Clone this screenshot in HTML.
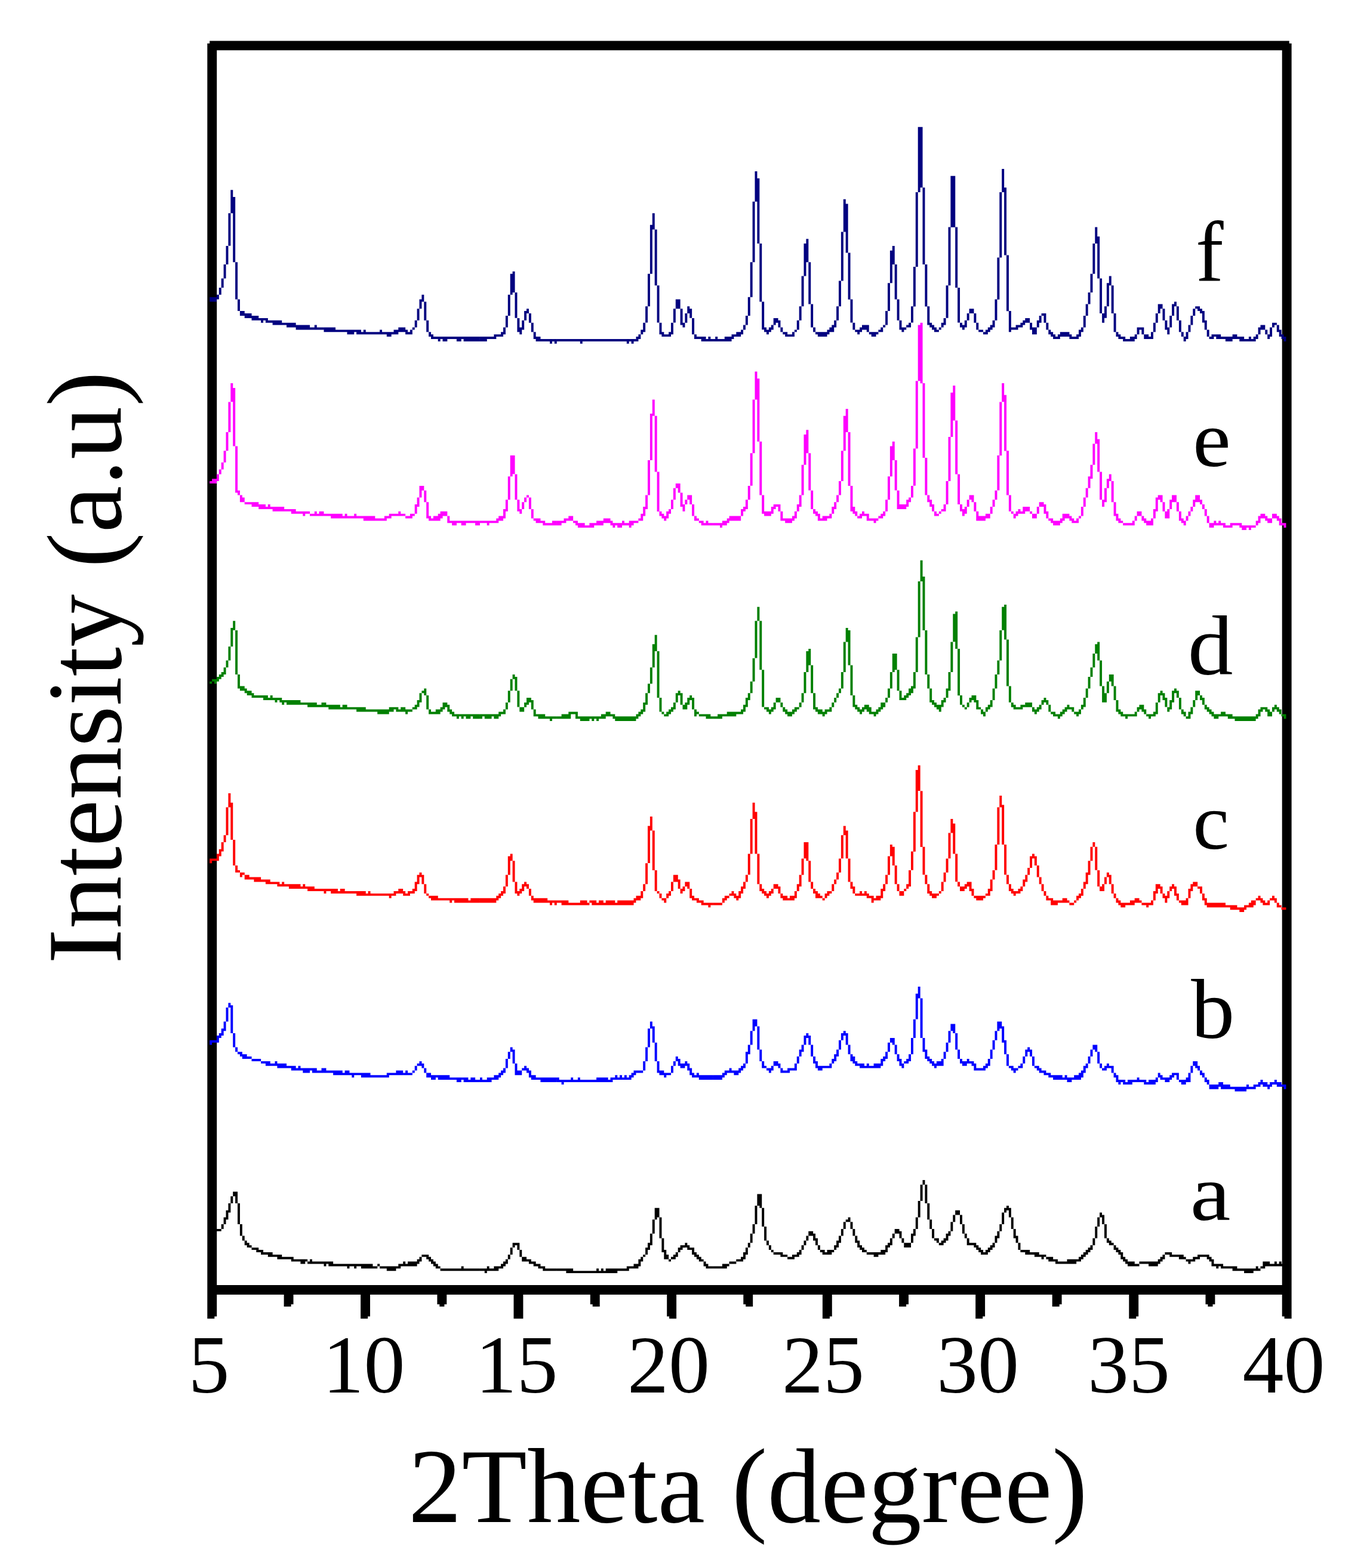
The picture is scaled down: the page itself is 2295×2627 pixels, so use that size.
<!DOCTYPE html>
<html lang="en"><head><meta charset="utf-8"><title>XRD patterns</title>
<style>html,body{margin:0;padding:0;background:#fff;overflow:hidden}svg{display:block}</style></head><body>
<svg width="2295" height="2627" viewBox="0 0 2295 2627">
<rect width="2295" height="2627" fill="#fff"/>
<path fill="#000" d="M351.2 68.4H2159.7V72.7H2163.6V84.3H347.3V72.7H351.2zM347.3 2153.1H2163.6V2169H347.3zM347.3 84H363.2V2153.5H347.3zM2147.7 84H2163.6V2153.5H2147.7zM347.3 2168.5H363.2V2205.4H359.3V2209.3H347.3zM475.6 2168.5H491.5V2185.2H487.6V2189.1H475.6zM604.1 2168.5H620.0V2205.4H616.1V2209.3H604.1zM732.4 2168.5H748.3V2185.2H744.4V2189.1H736.3V2185.2H732.4zM860.5 2168.5H876.4V2209.3H860.5zM988.8 2168.5H1004.7V2189.1H992.7V2185.2H988.8zM1117.2 2168.5H1133.1V2209.3H1121.1V2205.4H1117.2zM1245.3 2168.5H1261.2V2189.1H1249.2V2185.2H1245.3zM1377.9 2168.5H1393.8V2205.4H1389.9V2209.3H1377.9zM1506.1 2168.5H1522.0V2185.2H1518.1V2189.1H1506.1zM1634.2 2168.5H1650.1V2205.4H1646.2V2209.3H1634.2zM1762.7 2168.5H1778.6V2185.2H1774.7V2189.1H1762.7zM1891.3 2168.5H1907.2V2205.4H1903.3V2209.3H1891.3zM2019.5 2168.5H2035.4V2185.2H2031.5V2189.1H2023.4V2185.2H2019.5zM2147.7 2168.5H2163.6V2209.3H2151.6V2205.4H2147.7z"/>
<path fill="#000080" d="M351.2 497.7v7.8h3.95v-7.8zM355.1 497.7v7.8h3.95v-7.8zM359.0 497.7v7.8h3.95v-7.8zM362.9 493.8v7.8h3.95v-7.8zM366.8 482.1v11.7h3.95v-11.7zM370.7 466.5v15.6h3.95v-15.6zM374.6 443.1v23.4h3.95v-23.4zM378.5 411.9v31.2h3.95v-31.2zM382.4 357.2v54.6h3.95v-54.6zM386.3 318.2v39.0h3.95v-39.0zM390.2 329.9v109.3h3.95v-109.3zM394.1 439.2v62.4h3.95v-62.4zM398.0 501.6v19.5h3.95v-19.5zM401.9 521.1v7.8h3.95v-7.8zM405.8 521.1v7.8h3.95v-7.8zM409.7 525.1v7.8h3.95v-7.8zM413.7 525.1v7.8h3.95v-7.8zM417.6 525.1v7.8h3.95v-7.8zM421.5 529.0v7.8h3.95v-7.8zM425.4 529.0v7.8h3.95v-7.8zM429.3 529.0v7.8h3.95v-7.8zM433.2 532.9v3.9h3.95v-3.9zM437.1 532.9v7.8h3.95v-7.8zM441.0 532.9v3.9h3.95v-3.9zM444.9 532.9v7.8h3.95v-7.8zM448.8 536.8v3.9h3.95v-3.9zM452.7 536.8v3.9h3.95v-3.9zM456.6 536.8v7.8h3.95v-7.8zM460.5 536.8v7.8h3.95v-7.8zM464.4 536.8v7.8h3.95v-7.8zM468.3 536.8v7.8h3.95v-7.8zM472.2 540.7v3.9h3.95v-3.9zM476.1 540.7v3.9h3.95v-3.9zM480.0 540.7v7.8h3.95v-7.8zM483.9 540.7v7.8h3.95v-7.8zM487.8 540.7v7.8h3.95v-7.8zM491.7 540.7v7.8h3.95v-7.8zM495.6 544.6v7.8h3.95v-7.8zM499.5 544.6v7.8h3.95v-7.8zM503.4 544.6v7.8h3.95v-7.8zM507.3 544.6v7.8h3.95v-7.8zM511.2 544.6v7.8h3.95v-7.8zM515.1 544.6v7.8h3.95v-7.8zM519.0 548.5v3.9h3.95v-3.9zM522.9 548.5v3.9h3.95v-3.9zM526.8 544.6v7.8h3.95v-7.8zM530.7 548.5v3.9h3.95v-3.9zM534.6 548.5v3.9h3.95v-3.9zM538.5 548.5v3.9h3.95v-3.9zM542.5 548.5v7.8h3.95v-7.8zM546.4 548.5v7.8h3.95v-7.8zM550.3 548.5v7.8h3.95v-7.8zM554.2 548.5v7.8h3.95v-7.8zM558.1 548.5v7.8h3.95v-7.8zM562.0 552.4v3.9h3.95v-3.9zM565.9 552.4v3.9h3.95v-3.9zM569.8 552.4v3.9h3.95v-3.9zM573.7 552.4v3.9h3.95v-3.9zM577.6 552.4v3.9h3.95v-3.9zM581.5 552.4v7.8h3.95v-7.8zM585.4 552.4v7.8h3.95v-7.8zM589.3 552.4v7.8h3.95v-7.8zM593.2 552.4v3.9h3.95v-3.9zM597.1 552.4v7.8h3.95v-7.8zM601.0 552.4v7.8h3.95v-7.8zM604.9 556.3v3.9h3.95v-3.9zM608.8 552.4v7.8h3.95v-7.8zM612.7 556.3v3.9h3.95v-3.9zM616.6 556.3v3.9h3.95v-3.9zM620.5 556.3v3.9h3.95v-3.9zM624.4 556.3v3.9h3.95v-3.9zM628.3 556.3v3.9h3.95v-3.9zM632.2 556.3v3.9h3.95v-3.9zM636.1 552.4v7.8h3.95v-7.8zM640.0 556.3v3.9h3.95v-3.9zM643.9 556.3v3.9h3.95v-3.9zM647.8 556.3v7.8h3.95v-7.8zM651.7 556.3v7.8h3.95v-7.8zM655.6 556.3v3.9h3.95v-3.9zM659.5 552.4v7.8h3.95v-7.8zM663.4 552.4v7.8h3.95v-7.8zM667.3 548.5v7.8h3.95v-7.8zM671.2 548.5v7.8h3.95v-7.8zM675.2 548.5v7.8h3.95v-7.8zM679.1 552.4v7.8h3.95v-7.8zM683.0 556.3v3.9h3.95v-3.9zM686.9 552.4v7.8h3.95v-7.8zM690.8 548.5v3.9h3.95v-3.9zM694.7 536.8v11.7h3.95v-11.7zM698.6 517.2v19.5h3.95v-19.5zM702.5 501.6v15.6h3.95v-15.6zM706.4 493.8v11.7h3.95v-11.7zM710.3 505.5v31.2h3.95v-31.2zM714.2 536.8v19.5h3.95v-19.5zM718.1 556.3v7.8h3.95v-7.8zM722.0 560.2v7.8h3.95v-7.8zM725.9 564.1v3.9h3.95v-3.9zM729.8 564.1v3.9h3.95v-3.9zM733.7 564.1v7.8h3.95v-7.8zM737.6 564.1v3.9h3.95v-3.9zM741.5 564.1v7.8h3.95v-7.8zM745.4 564.1v7.8h3.95v-7.8zM749.3 564.1v3.9h3.95v-3.9zM753.2 564.1v3.9h3.95v-3.9zM757.1 564.1v3.9h3.95v-3.9zM761.0 564.1v3.9h3.95v-3.9zM764.9 564.1v7.8h3.95v-7.8zM768.8 564.1v7.8h3.95v-7.8zM772.7 564.1v3.9h3.95v-3.9zM776.6 564.1v7.8h3.95v-7.8zM780.5 564.1v7.8h3.95v-7.8zM784.4 564.1v7.8h3.95v-7.8zM788.3 564.1v7.8h3.95v-7.8zM792.2 564.1v7.8h3.95v-7.8zM796.1 564.1v7.8h3.95v-7.8zM800.0 564.1v7.8h3.95v-7.8zM804.0 564.1v7.8h3.95v-7.8zM807.9 564.1v7.8h3.95v-7.8zM811.8 564.1v7.8h3.95v-7.8zM815.7 564.1v3.9h3.95v-3.9zM819.6 564.1v3.9h3.95v-3.9zM823.5 564.1v3.9h3.95v-3.9zM827.4 560.2v7.8h3.95v-7.8zM831.3 560.2v3.9h3.95v-3.9zM835.2 560.2v3.9h3.95v-3.9zM839.1 556.3v7.8h3.95v-7.8zM843.0 548.5v11.7h3.95v-11.7zM846.9 529.0v19.5h3.95v-19.5zM850.8 493.8v35.1h3.95v-35.1zM854.7 458.7v35.1h3.95v-35.1zM858.6 454.8v35.1h3.95v-35.1zM862.5 489.9v42.9h3.95v-42.9zM866.4 532.9v23.4h3.95v-23.4zM870.3 548.5v11.7h3.95v-11.7zM874.2 536.8v15.6h3.95v-15.6zM878.1 521.1v15.6h3.95v-15.6zM882.0 517.2v7.8h3.95v-7.8zM885.9 525.1v15.6h3.95v-15.6zM889.8 540.7v15.6h3.95v-15.6zM893.7 556.3v11.7h3.95v-11.7zM897.6 564.1v7.8h3.95v-7.8zM901.5 564.1v7.8h3.95v-7.8zM905.4 568.0v3.9h3.95v-3.9zM909.3 568.0v3.9h3.95v-3.9zM913.2 568.0v3.9h3.95v-3.9zM917.1 568.0v3.9h3.95v-3.9zM921.0 568.0v7.8h3.95v-7.8zM924.9 568.0v3.9h3.95v-3.9zM928.8 568.0v7.8h3.95v-7.8zM932.8 568.0v3.9h3.95v-3.9zM936.7 568.0v3.9h3.95v-3.9zM940.6 568.0v3.9h3.95v-3.9zM944.5 568.0v3.9h3.95v-3.9zM948.4 568.0v3.9h3.95v-3.9zM952.3 568.0v3.9h3.95v-3.9zM956.2 568.0v3.9h3.95v-3.9zM960.1 568.0v3.9h3.95v-3.9zM964.0 568.0v3.9h3.95v-3.9zM967.9 568.0v3.9h3.95v-3.9zM971.8 568.0v7.8h3.95v-7.8zM975.7 568.0v3.9h3.95v-3.9zM979.6 568.0v3.9h3.95v-3.9zM983.5 568.0v3.9h3.95v-3.9zM987.4 568.0v3.9h3.95v-3.9zM991.3 568.0v3.9h3.95v-3.9zM995.2 568.0v3.9h3.95v-3.9zM999.1 568.0v3.9h3.95v-3.9zM1003.0 568.0v3.9h3.95v-3.9zM1006.9 568.0v3.9h3.95v-3.9zM1010.8 568.0v3.9h3.95v-3.9zM1014.7 568.0v3.9h3.95v-3.9zM1018.6 568.0v3.9h3.95v-3.9zM1022.5 568.0v3.9h3.95v-3.9zM1026.4 568.0v3.9h3.95v-3.9zM1030.3 568.0v3.9h3.95v-3.9zM1034.2 568.0v3.9h3.95v-3.9zM1038.1 568.0v3.9h3.95v-3.9zM1042.0 568.0v3.9h3.95v-3.9zM1045.9 568.0v3.9h3.95v-3.9zM1049.8 568.0v7.8h3.95v-7.8zM1053.7 568.0v3.9h3.95v-3.9zM1057.6 568.0v7.8h3.95v-7.8zM1061.5 568.0v3.9h3.95v-3.9zM1065.5 564.1v7.8h3.95v-7.8zM1069.4 560.2v7.8h3.95v-7.8zM1073.3 552.4v7.8h3.95v-7.8zM1077.2 540.7v15.6h3.95v-15.6zM1081.1 513.3v27.3h3.95v-27.3zM1085.0 458.7v54.6h3.95v-54.6zM1088.9 376.7v82.0h3.95v-82.0zM1092.8 357.2v27.3h3.95v-27.3zM1096.7 384.5v93.7h3.95v-93.7zM1100.6 478.2v62.4h3.95v-62.4zM1104.5 540.7v19.5h3.95v-19.5zM1108.4 556.3v7.8h3.95v-7.8zM1112.3 560.2v3.9h3.95v-3.9zM1116.2 560.2v3.9h3.95v-3.9zM1120.1 556.3v7.8h3.95v-7.8zM1124.0 540.7v19.5h3.95v-19.5zM1127.9 517.2v23.4h3.95v-23.4zM1131.8 501.6v15.6h3.95v-15.6zM1135.7 501.6v15.6h3.95v-15.6zM1139.6 517.2v27.3h3.95v-27.3zM1143.5 540.7v7.8h3.95v-7.8zM1147.4 525.1v15.6h3.95v-15.6zM1151.3 513.3v11.7h3.95v-11.7zM1155.2 517.2v15.6h3.95v-15.6zM1159.1 532.9v27.3h3.95v-27.3zM1163.0 560.2v7.8h3.95v-7.8zM1166.9 564.1v3.9h3.95v-3.9zM1170.8 564.1v3.9h3.95v-3.9zM1174.7 564.1v7.8h3.95v-7.8zM1178.6 564.1v7.8h3.95v-7.8zM1182.5 568.0v3.9h3.95v-3.9zM1186.4 564.1v7.8h3.95v-7.8zM1190.3 568.0v3.9h3.95v-3.9zM1194.3 568.0v3.9h3.95v-3.9zM1198.2 564.1v7.8h3.95v-7.8zM1202.1 568.0v3.9h3.95v-3.9zM1206.0 568.0v3.9h3.95v-3.9zM1209.9 568.0v3.9h3.95v-3.9zM1213.8 564.1v7.8h3.95v-7.8zM1217.7 564.1v7.8h3.95v-7.8zM1221.6 564.1v7.8h3.95v-7.8zM1225.5 560.2v7.8h3.95v-7.8zM1229.4 560.2v3.9h3.95v-3.9zM1233.3 556.3v7.8h3.95v-7.8zM1237.2 556.3v7.8h3.95v-7.8zM1241.1 552.4v7.8h3.95v-7.8zM1245.0 544.6v7.8h3.95v-7.8zM1248.9 529.0v15.6h3.95v-15.6zM1252.8 497.7v31.2h3.95v-31.2zM1256.7 439.2v58.5h3.95v-58.5zM1260.6 337.7v101.5h3.95v-101.5zM1264.5 287.0v50.7h3.95v-50.7zM1268.4 298.7v109.3h3.95v-109.3zM1272.3 408.0v97.6h3.95v-97.6zM1276.2 505.5v46.8h3.95v-46.8zM1280.1 548.5v7.8h3.95v-7.8zM1284.0 552.4v7.8h3.95v-7.8zM1287.9 548.5v7.8h3.95v-7.8zM1291.8 544.6v7.8h3.95v-7.8zM1295.7 532.9v11.7h3.95v-11.7zM1299.6 532.9v7.8h3.95v-7.8zM1303.5 536.8v11.7h3.95v-11.7zM1307.4 548.5v7.8h3.95v-7.8zM1311.3 556.3v3.9h3.95v-3.9zM1315.2 556.3v7.8h3.95v-7.8zM1319.1 560.2v3.9h3.95v-3.9zM1323.0 560.2v3.9h3.95v-3.9zM1327.0 556.3v7.8h3.95v-7.8zM1330.9 552.4v3.9h3.95v-3.9zM1334.8 536.8v15.6h3.95v-15.6zM1338.7 513.3v23.4h3.95v-23.4zM1342.6 462.6v50.7h3.95v-50.7zM1346.5 408.0v54.6h3.95v-54.6zM1350.4 400.2v39.0h3.95v-39.0zM1354.3 439.2v70.3h3.95v-70.3zM1358.2 509.4v39.0h3.95v-39.0zM1362.1 548.5v7.8h3.95v-7.8zM1366.0 556.3v3.9h3.95v-3.9zM1369.9 556.3v7.8h3.95v-7.8zM1373.8 556.3v7.8h3.95v-7.8zM1377.7 556.3v7.8h3.95v-7.8zM1381.6 556.3v7.8h3.95v-7.8zM1385.5 552.4v7.8h3.95v-7.8zM1389.4 548.5v7.8h3.95v-7.8zM1393.3 544.6v11.7h3.95v-11.7zM1397.2 536.8v11.7h3.95v-11.7zM1401.1 513.3v23.4h3.95v-23.4zM1405.0 470.4v42.9h3.95v-42.9zM1408.9 388.4v82.0h3.95v-82.0zM1412.8 333.8v54.6h3.95v-54.6zM1416.7 341.6v82.0h3.95v-82.0zM1420.6 423.6v78.1h3.95v-78.1zM1424.5 501.6v39.0h3.95v-39.0zM1428.4 540.7v11.7h3.95v-11.7zM1432.3 552.4v3.9h3.95v-3.9zM1436.2 552.4v7.8h3.95v-7.8zM1440.1 548.5v7.8h3.95v-7.8zM1444.0 544.6v7.8h3.95v-7.8zM1447.9 544.6v7.8h3.95v-7.8zM1451.8 544.6v11.7h3.95v-11.7zM1455.8 556.3v3.9h3.95v-3.9zM1459.7 556.3v7.8h3.95v-7.8zM1463.6 556.3v7.8h3.95v-7.8zM1467.5 556.3v3.9h3.95v-3.9zM1471.4 552.4v3.9h3.95v-3.9zM1475.3 548.5v7.8h3.95v-7.8zM1479.2 544.6v3.9h3.95v-3.9zM1483.1 521.1v23.4h3.95v-23.4zM1487.0 474.3v46.8h3.95v-46.8zM1490.9 419.7v54.6h3.95v-54.6zM1494.8 411.9v31.2h3.95v-31.2zM1498.7 443.1v58.5h3.95v-58.5zM1502.6 501.6v35.1h3.95v-35.1zM1506.5 536.8v15.6h3.95v-15.6zM1510.4 548.5v7.8h3.95v-7.8zM1514.3 548.5v3.9h3.95v-3.9zM1518.2 544.6v3.9h3.95v-3.9zM1522.1 540.7v7.8h3.95v-7.8zM1526.0 513.3v27.3h3.95v-27.3zM1529.9 447.0v66.4h3.95v-66.4zM1533.8 322.1v124.9h3.95v-124.9zM1537.7 212.8v109.3h3.95v-109.3zM1541.6 212.8v101.5h3.95v-101.5zM1545.5 314.3v128.8h3.95v-128.8zM1549.4 443.1v70.3h3.95v-70.3zM1553.3 513.3v31.2h3.95v-31.2zM1557.2 540.7v7.8h3.95v-7.8zM1561.1 544.6v7.8h3.95v-7.8zM1565.0 548.5v7.8h3.95v-7.8zM1568.9 552.4v3.9h3.95v-3.9zM1572.8 548.5v3.9h3.95v-3.9zM1576.7 540.7v7.8h3.95v-7.8zM1580.6 532.9v11.7h3.95v-11.7zM1584.6 478.2v54.6h3.95v-54.6zM1588.5 380.6v97.6h3.95v-97.6zM1592.4 294.8v85.9h3.95v-85.9zM1596.3 294.8v85.9h3.95v-85.9zM1600.2 380.6v101.5h3.95v-101.5zM1604.1 482.1v58.5h3.95v-58.5zM1608.0 540.7v7.8h3.95v-7.8zM1611.9 544.6v7.8h3.95v-7.8zM1615.8 536.8v11.7h3.95v-11.7zM1619.7 525.1v11.7h3.95v-11.7zM1623.6 517.2v7.8h3.95v-7.8zM1627.5 517.2v7.8h3.95v-7.8zM1631.4 525.1v15.6h3.95v-15.6zM1635.3 540.7v11.7h3.95v-11.7zM1639.2 552.4v3.9h3.95v-3.9zM1643.1 552.4v3.9h3.95v-3.9zM1647.0 556.3v3.9h3.95v-3.9zM1650.9 552.4v7.8h3.95v-7.8zM1654.8 548.5v7.8h3.95v-7.8zM1658.7 544.6v7.8h3.95v-7.8zM1662.6 536.8v11.7h3.95v-11.7zM1666.5 501.6v35.1h3.95v-35.1zM1670.4 431.4v70.3h3.95v-70.3zM1674.3 322.1v109.3h3.95v-109.3zM1678.2 283.1v39.0h3.95v-39.0zM1682.1 314.3v113.2h3.95v-113.2zM1686.0 427.5v93.7h3.95v-93.7zM1689.9 521.1v35.1h3.95v-35.1zM1693.8 548.5v3.9h3.95v-3.9zM1697.7 548.5v3.9h3.95v-3.9zM1701.6 544.6v7.8h3.95v-7.8zM1705.5 544.6v3.9h3.95v-3.9zM1709.4 540.7v7.8h3.95v-7.8zM1713.3 536.8v7.8h3.95v-7.8zM1717.3 532.9v7.8h3.95v-7.8zM1721.2 532.9v7.8h3.95v-7.8zM1725.1 540.7v11.7h3.95v-11.7zM1729.0 548.5v11.7h3.95v-11.7zM1732.9 548.5v11.7h3.95v-11.7zM1736.8 536.8v11.7h3.95v-11.7zM1740.7 529.0v11.7h3.95v-11.7zM1744.6 525.1v3.9h3.95v-3.9zM1748.5 525.1v15.6h3.95v-15.6zM1752.4 540.7v11.7h3.95v-11.7zM1756.3 552.4v7.8h3.95v-7.8zM1760.2 556.3v7.8h3.95v-7.8zM1764.1 560.2v7.8h3.95v-7.8zM1768.0 564.1v3.9h3.95v-3.9zM1771.9 560.2v7.8h3.95v-7.8zM1775.8 556.3v7.8h3.95v-7.8zM1779.7 556.3v7.8h3.95v-7.8zM1783.6 556.3v7.8h3.95v-7.8zM1787.5 556.3v7.8h3.95v-7.8zM1791.4 560.2v7.8h3.95v-7.8zM1795.3 564.1v3.9h3.95v-3.9zM1799.2 564.1v3.9h3.95v-3.9zM1803.1 560.2v7.8h3.95v-7.8zM1807.0 552.4v11.7h3.95v-11.7zM1810.9 548.5v7.8h3.95v-7.8zM1814.8 529.0v19.5h3.95v-19.5zM1818.7 509.4v19.5h3.95v-19.5zM1822.6 489.9v19.5h3.95v-19.5zM1826.5 458.7v31.2h3.95v-31.2zM1830.4 408.0v50.7h3.95v-50.7zM1834.3 380.6v27.3h3.95v-27.3zM1838.2 396.3v70.3h3.95v-70.3zM1842.1 466.5v58.5h3.95v-58.5zM1846.1 525.1v15.6h3.95v-15.6zM1850.0 513.3v19.5h3.95v-19.5zM1853.9 474.3v39.0h3.95v-39.0zM1857.8 462.6v15.6h3.95v-15.6zM1861.7 478.2v46.8h3.95v-46.8zM1865.6 525.1v31.2h3.95v-31.2zM1869.5 556.3v7.8h3.95v-7.8zM1873.4 560.2v7.8h3.95v-7.8zM1877.3 564.1v3.9h3.95v-3.9zM1881.2 564.1v7.8h3.95v-7.8zM1885.1 568.0v3.9h3.95v-3.9zM1889.0 568.0v3.9h3.95v-3.9zM1892.9 564.1v7.8h3.95v-7.8zM1896.8 564.1v7.8h3.95v-7.8zM1900.7 560.2v7.8h3.95v-7.8zM1904.6 548.5v11.7h3.95v-11.7zM1908.5 548.5v3.9h3.95v-3.9zM1912.4 548.5v11.7h3.95v-11.7zM1916.3 560.2v7.8h3.95v-7.8zM1920.2 560.2v7.8h3.95v-7.8zM1924.1 564.1v3.9h3.95v-3.9zM1928.0 556.3v11.7h3.95v-11.7zM1931.9 540.7v15.6h3.95v-15.6zM1935.8 525.1v15.6h3.95v-15.6zM1939.7 509.4v15.6h3.95v-15.6zM1943.6 509.4v7.8h3.95v-7.8zM1947.5 517.2v19.5h3.95v-19.5zM1951.4 536.8v15.6h3.95v-15.6zM1955.3 548.5v11.7h3.95v-11.7zM1959.2 529.0v19.5h3.95v-19.5zM1963.1 509.4v19.5h3.95v-19.5zM1967.0 505.5v7.8h3.95v-7.8zM1970.9 513.3v23.4h3.95v-23.4zM1974.9 536.8v19.5h3.95v-19.5zM1978.8 556.3v7.8h3.95v-7.8zM1982.7 564.1v7.8h3.95v-7.8zM1986.6 556.3v11.7h3.95v-11.7zM1990.5 544.6v11.7h3.95v-11.7zM1994.4 529.0v15.6h3.95v-15.6zM1998.3 517.2v11.7h3.95v-11.7zM2002.2 513.3v3.9h3.95v-3.9zM2006.1 513.3v7.8h3.95v-7.8zM2010.0 517.2v7.8h3.95v-7.8zM2013.9 521.1v19.5h3.95v-19.5zM2017.8 536.8v15.6h3.95v-15.6zM2021.7 552.4v11.7h3.95v-11.7zM2025.6 564.1v3.9h3.95v-3.9zM2029.5 560.2v7.8h3.95v-7.8zM2033.4 560.2v3.9h3.95v-3.9zM2037.3 560.2v7.8h3.95v-7.8zM2041.2 560.2v7.8h3.95v-7.8zM2045.1 564.1v3.9h3.95v-3.9zM2049.0 564.1v3.9h3.95v-3.9zM2052.9 564.1v7.8h3.95v-7.8zM2056.8 564.1v7.8h3.95v-7.8zM2060.7 564.1v7.8h3.95v-7.8zM2064.6 560.2v7.8h3.95v-7.8zM2068.5 560.2v7.8h3.95v-7.8zM2072.4 564.1v3.9h3.95v-3.9zM2076.3 564.1v7.8h3.95v-7.8zM2080.2 564.1v7.8h3.95v-7.8zM2084.1 568.0v3.9h3.95v-3.9zM2088.0 568.0v3.9h3.95v-3.9zM2091.9 564.1v7.8h3.95v-7.8zM2095.8 568.0v3.9h3.95v-3.9zM2099.7 564.1v7.8h3.95v-7.8zM2103.7 560.2v7.8h3.95v-7.8zM2107.6 548.5v11.7h3.95v-11.7zM2111.5 544.6v7.8h3.95v-7.8zM2115.4 544.6v7.8h3.95v-7.8zM2119.3 552.4v7.8h3.95v-7.8zM2123.2 560.2v7.8h3.95v-7.8zM2127.1 548.5v15.6h3.95v-15.6zM2131.0 540.7v7.8h3.95v-7.8zM2134.9 540.7v3.9h3.95v-3.9zM2138.8 544.6v11.7h3.95v-11.7zM2142.7 552.4v11.7h3.95v-11.7zM2146.6 560.2v7.8h3.95v-7.8zM2150.5 564.1v7.8h3.95v-7.8z"/>
<path fill="#ff00ff" d="M351.2 806.1v3.9h3.95v-3.9zM355.1 802.2v7.8h3.95v-7.8zM359.0 802.2v7.8h3.95v-7.8zM362.9 794.4v11.7h3.95v-11.7zM366.8 786.6v7.8h3.95v-7.8zM370.7 774.8v11.7h3.95v-11.7zM374.6 755.3v19.5h3.95v-19.5zM378.5 724.1v31.2h3.95v-31.2zM382.4 673.4v50.7h3.95v-50.7zM386.3 642.1v31.2h3.95v-31.2zM390.2 649.9v97.6h3.95v-97.6zM394.1 747.5v78.1h3.95v-78.1zM398.0 821.7v7.8h3.95v-7.8zM401.9 829.5v11.7h3.95v-11.7zM405.8 833.4v7.8h3.95v-7.8zM409.7 841.2v3.9h3.95v-3.9zM413.7 841.2v3.9h3.95v-3.9zM417.6 841.2v3.9h3.95v-3.9zM421.5 841.2v7.8h3.95v-7.8zM425.4 841.2v7.8h3.95v-7.8zM429.3 841.2v7.8h3.95v-7.8zM433.2 845.1v7.8h3.95v-7.8zM437.1 845.1v7.8h3.95v-7.8zM441.0 845.1v7.8h3.95v-7.8zM444.9 849.0v3.9h3.95v-3.9zM448.8 845.1v7.8h3.95v-7.8zM452.7 849.0v3.9h3.95v-3.9zM456.6 849.0v7.8h3.95v-7.8zM460.5 849.0v7.8h3.95v-7.8zM464.4 849.0v7.8h3.95v-7.8zM468.3 849.0v7.8h3.95v-7.8zM472.2 849.0v7.8h3.95v-7.8zM476.1 852.9v3.9h3.95v-3.9zM480.0 852.9v3.9h3.95v-3.9zM483.9 852.9v3.9h3.95v-3.9zM487.8 852.9v7.8h3.95v-7.8zM491.7 852.9v7.8h3.95v-7.8zM495.6 856.8v3.9h3.95v-3.9zM499.5 856.8v3.9h3.95v-3.9zM503.4 856.8v3.9h3.95v-3.9zM507.3 856.8v7.8h3.95v-7.8zM511.2 856.8v3.9h3.95v-3.9zM515.1 856.8v3.9h3.95v-3.9zM519.0 860.7v3.9h3.95v-3.9zM522.9 860.7v3.9h3.95v-3.9zM526.8 856.8v7.8h3.95v-7.8zM530.7 860.7v3.9h3.95v-3.9zM534.6 856.8v7.8h3.95v-7.8zM538.5 856.8v7.8h3.95v-7.8zM542.5 860.7v3.9h3.95v-3.9zM546.4 860.7v3.9h3.95v-3.9zM550.3 860.7v3.9h3.95v-3.9zM554.2 860.7v7.8h3.95v-7.8zM558.1 860.7v7.8h3.95v-7.8zM562.0 860.7v7.8h3.95v-7.8zM565.9 860.7v7.8h3.95v-7.8zM569.8 860.7v7.8h3.95v-7.8zM573.7 864.6v3.9h3.95v-3.9zM577.6 860.7v7.8h3.95v-7.8zM581.5 864.6v3.9h3.95v-3.9zM585.4 864.6v3.9h3.95v-3.9zM589.3 864.6v3.9h3.95v-3.9zM593.2 860.7v7.8h3.95v-7.8zM597.1 864.6v3.9h3.95v-3.9zM601.0 864.6v3.9h3.95v-3.9zM604.9 864.6v3.9h3.95v-3.9zM608.8 864.6v7.8h3.95v-7.8zM612.7 864.6v7.8h3.95v-7.8zM616.6 864.6v7.8h3.95v-7.8zM620.5 864.6v7.8h3.95v-7.8zM624.4 864.6v7.8h3.95v-7.8zM628.3 868.5v3.9h3.95v-3.9zM632.2 868.5v3.9h3.95v-3.9zM636.1 868.5v3.9h3.95v-3.9zM640.0 868.5v3.9h3.95v-3.9zM643.9 864.6v7.8h3.95v-7.8zM647.8 864.6v3.9h3.95v-3.9zM651.7 860.7v7.8h3.95v-7.8zM655.6 860.7v3.9h3.95v-3.9zM659.5 860.7v3.9h3.95v-3.9zM663.4 860.7v3.9h3.95v-3.9zM667.3 856.8v7.8h3.95v-7.8zM671.2 860.7v3.9h3.95v-3.9zM675.2 860.7v3.9h3.95v-3.9zM679.1 864.6v3.9h3.95v-3.9zM683.0 864.6v3.9h3.95v-3.9zM686.9 860.7v7.8h3.95v-7.8zM690.8 860.7v3.9h3.95v-3.9zM694.7 845.1v15.6h3.95v-15.6zM698.6 833.4v15.6h3.95v-15.6zM702.5 813.9v19.5h3.95v-19.5zM706.4 813.9v7.8h3.95v-7.8zM710.3 821.7v19.5h3.95v-19.5zM714.2 841.2v27.3h3.95v-27.3zM718.1 864.6v7.8h3.95v-7.8zM722.0 868.5v3.9h3.95v-3.9zM725.9 864.6v7.8h3.95v-7.8zM729.8 864.6v7.8h3.95v-7.8zM733.7 860.7v11.7h3.95v-11.7zM737.6 856.8v11.7h3.95v-11.7zM741.5 856.8v7.8h3.95v-7.8zM745.4 856.8v7.8h3.95v-7.8zM749.3 864.6v11.7h3.95v-11.7zM753.2 872.4v3.9h3.95v-3.9zM757.1 872.4v7.8h3.95v-7.8zM761.0 872.4v7.8h3.95v-7.8zM764.9 872.4v3.9h3.95v-3.9zM768.8 872.4v3.9h3.95v-3.9zM772.7 872.4v7.8h3.95v-7.8zM776.6 872.4v7.8h3.95v-7.8zM780.5 872.4v3.9h3.95v-3.9zM784.4 872.4v3.9h3.95v-3.9zM788.3 872.4v3.9h3.95v-3.9zM792.2 872.4v3.9h3.95v-3.9zM796.1 872.4v7.8h3.95v-7.8zM800.0 872.4v7.8h3.95v-7.8zM804.0 872.4v3.9h3.95v-3.9zM807.9 872.4v3.9h3.95v-3.9zM811.8 872.4v3.9h3.95v-3.9zM815.7 872.4v7.8h3.95v-7.8zM819.6 872.4v3.9h3.95v-3.9zM823.5 872.4v3.9h3.95v-3.9zM827.4 872.4v3.9h3.95v-3.9zM831.3 868.5v7.8h3.95v-7.8zM835.2 864.6v7.8h3.95v-7.8zM839.1 864.6v7.8h3.95v-7.8zM843.0 852.9v15.6h3.95v-15.6zM846.9 837.3v19.5h3.95v-19.5zM850.8 798.3v39.0h3.95v-39.0zM854.7 763.1v35.1h3.95v-35.1zM858.6 763.1v31.2h3.95v-31.2zM862.5 794.4v42.9h3.95v-42.9zM866.4 837.3v19.5h3.95v-19.5zM870.3 852.9v7.8h3.95v-7.8zM874.2 841.2v11.7h3.95v-11.7zM878.1 833.4v7.8h3.95v-7.8zM882.0 829.5v3.9h3.95v-3.9zM885.9 833.4v19.5h3.95v-19.5zM889.8 852.9v15.6h3.95v-15.6zM893.7 868.5v3.9h3.95v-3.9zM897.6 868.5v7.8h3.95v-7.8zM901.5 868.5v7.8h3.95v-7.8zM905.4 872.4v3.9h3.95v-3.9zM909.3 872.4v7.8h3.95v-7.8zM913.2 876.3v3.9h3.95v-3.9zM917.1 876.3v3.9h3.95v-3.9zM921.0 876.3v3.9h3.95v-3.9zM924.9 872.4v7.8h3.95v-7.8zM928.8 872.4v7.8h3.95v-7.8zM932.8 872.4v7.8h3.95v-7.8zM936.7 872.4v7.8h3.95v-7.8zM940.6 872.4v3.9h3.95v-3.9zM944.5 868.5v7.8h3.95v-7.8zM948.4 868.5v3.9h3.95v-3.9zM952.3 864.6v7.8h3.95v-7.8zM956.2 864.6v7.8h3.95v-7.8zM960.1 872.4v3.9h3.95v-3.9zM964.0 872.4v7.8h3.95v-7.8zM967.9 876.3v7.8h3.95v-7.8zM971.8 876.3v7.8h3.95v-7.8zM975.7 876.3v7.8h3.95v-7.8zM979.6 880.2v3.9h3.95v-3.9zM983.5 880.2v3.9h3.95v-3.9zM987.4 876.3v7.8h3.95v-7.8zM991.3 876.3v7.8h3.95v-7.8zM995.2 876.3v3.9h3.95v-3.9zM999.1 872.4v7.8h3.95v-7.8zM1003.0 872.4v7.8h3.95v-7.8zM1006.9 872.4v7.8h3.95v-7.8zM1010.8 868.5v7.8h3.95v-7.8zM1014.7 868.5v7.8h3.95v-7.8zM1018.6 868.5v7.8h3.95v-7.8zM1022.5 872.4v7.8h3.95v-7.8zM1026.4 876.3v7.8h3.95v-7.8zM1030.3 876.3v3.9h3.95v-3.9zM1034.2 876.3v7.8h3.95v-7.8zM1038.1 876.3v7.8h3.95v-7.8zM1042.0 872.4v7.8h3.95v-7.8zM1045.9 876.3v3.9h3.95v-3.9zM1049.8 876.3v3.9h3.95v-3.9zM1053.7 872.4v11.7h3.95v-11.7zM1057.6 872.4v7.8h3.95v-7.8zM1061.5 872.4v3.9h3.95v-3.9zM1065.5 872.4v3.9h3.95v-3.9zM1069.4 868.5v3.9h3.95v-3.9zM1073.3 860.7v11.7h3.95v-11.7zM1077.2 849.0v15.6h3.95v-15.6zM1081.1 829.5v23.4h3.95v-23.4zM1085.0 770.9v58.5h3.95v-58.5zM1088.9 692.9v78.1h3.95v-78.1zM1092.8 669.5v27.3h3.95v-27.3zM1096.7 696.8v93.7h3.95v-93.7zM1100.6 790.5v66.4h3.95v-66.4zM1104.5 856.8v7.8h3.95v-7.8zM1108.4 860.7v7.8h3.95v-7.8zM1112.3 864.6v7.8h3.95v-7.8zM1116.2 856.8v11.7h3.95v-11.7zM1120.1 852.9v7.8h3.95v-7.8zM1124.0 837.3v15.6h3.95v-15.6zM1127.9 817.8v19.5h3.95v-19.5zM1131.8 810.0v7.8h3.95v-7.8zM1135.7 810.0v15.6h3.95v-15.6zM1139.6 825.6v23.4h3.95v-23.4zM1143.5 845.1v11.7h3.95v-11.7zM1147.4 837.3v7.8h3.95v-7.8zM1151.3 829.5v7.8h3.95v-7.8zM1155.2 829.5v15.6h3.95v-15.6zM1159.1 845.1v19.5h3.95v-19.5zM1163.0 864.6v7.8h3.95v-7.8zM1166.9 868.5v3.9h3.95v-3.9zM1170.8 872.4v3.9h3.95v-3.9zM1174.7 872.4v7.8h3.95v-7.8zM1178.6 876.3v3.9h3.95v-3.9zM1182.5 872.4v7.8h3.95v-7.8zM1186.4 876.3v3.9h3.95v-3.9zM1190.3 876.3v3.9h3.95v-3.9zM1194.3 876.3v3.9h3.95v-3.9zM1198.2 876.3v3.9h3.95v-3.9zM1202.1 876.3v3.9h3.95v-3.9zM1206.0 876.3v7.8h3.95v-7.8zM1209.9 872.4v7.8h3.95v-7.8zM1213.8 872.4v7.8h3.95v-7.8zM1217.7 868.5v7.8h3.95v-7.8zM1221.6 864.6v7.8h3.95v-7.8zM1225.5 864.6v7.8h3.95v-7.8zM1229.4 864.6v7.8h3.95v-7.8zM1233.3 864.6v7.8h3.95v-7.8zM1237.2 864.6v7.8h3.95v-7.8zM1241.1 852.9v11.7h3.95v-11.7zM1245.0 849.0v7.8h3.95v-7.8zM1248.9 837.3v15.6h3.95v-15.6zM1252.8 813.9v23.4h3.95v-23.4zM1256.7 759.2v54.6h3.95v-54.6zM1260.6 669.5v89.8h3.95v-89.8zM1264.5 622.6v46.8h3.95v-46.8zM1268.4 634.3v105.4h3.95v-105.4zM1272.3 739.7v89.8h3.95v-89.8zM1276.2 829.5v31.2h3.95v-31.2zM1280.1 856.8v7.8h3.95v-7.8zM1284.0 856.8v7.8h3.95v-7.8zM1287.9 856.8v7.8h3.95v-7.8zM1291.8 849.0v11.7h3.95v-11.7zM1295.7 845.1v7.8h3.95v-7.8zM1299.6 845.1v3.9h3.95v-3.9zM1303.5 845.1v11.7h3.95v-11.7zM1307.4 856.8v15.6h3.95v-15.6zM1311.3 868.5v3.9h3.95v-3.9zM1315.2 868.5v7.8h3.95v-7.8zM1319.1 868.5v7.8h3.95v-7.8zM1323.0 868.5v7.8h3.95v-7.8zM1327.0 864.6v7.8h3.95v-7.8zM1330.9 856.8v11.7h3.95v-11.7zM1334.8 845.1v11.7h3.95v-11.7zM1338.7 829.5v19.5h3.95v-19.5zM1342.6 778.7v50.7h3.95v-50.7zM1346.5 728.0v50.7h3.95v-50.7zM1350.4 720.2v39.0h3.95v-39.0zM1354.3 759.2v62.4h3.95v-62.4zM1358.2 821.7v31.2h3.95v-31.2zM1362.1 852.9v7.8h3.95v-7.8zM1366.0 856.8v7.8h3.95v-7.8zM1369.9 860.7v11.7h3.95v-11.7zM1373.8 868.5v3.9h3.95v-3.9zM1377.7 864.6v7.8h3.95v-7.8zM1381.6 864.6v7.8h3.95v-7.8zM1385.5 864.6v3.9h3.95v-3.9zM1389.4 860.7v7.8h3.95v-7.8zM1393.3 849.0v11.7h3.95v-11.7zM1397.2 841.2v11.7h3.95v-11.7zM1401.1 829.5v11.7h3.95v-11.7zM1405.0 806.1v23.4h3.95v-23.4zM1408.9 755.3v50.7h3.95v-50.7zM1412.8 696.8v58.5h3.95v-58.5zM1416.7 685.1v39.0h3.95v-39.0zM1420.6 724.1v89.8h3.95v-89.8zM1424.5 813.9v42.9h3.95v-42.9zM1428.4 849.0v11.7h3.95v-11.7zM1432.3 856.8v7.8h3.95v-7.8zM1436.2 864.6v3.9h3.95v-3.9zM1440.1 860.7v7.8h3.95v-7.8zM1444.0 856.8v7.8h3.95v-7.8zM1447.9 860.7v3.9h3.95v-3.9zM1451.8 860.7v11.7h3.95v-11.7zM1455.8 868.5v3.9h3.95v-3.9zM1459.7 868.5v3.9h3.95v-3.9zM1463.6 868.5v7.8h3.95v-7.8zM1467.5 868.5v3.9h3.95v-3.9zM1471.4 864.6v3.9h3.95v-3.9zM1475.3 860.7v7.8h3.95v-7.8zM1479.2 856.8v7.8h3.95v-7.8zM1483.1 837.3v19.5h3.95v-19.5zM1487.0 798.3v39.0h3.95v-39.0zM1490.9 747.5v50.7h3.95v-50.7zM1494.8 739.7v31.2h3.95v-31.2zM1498.7 770.9v50.7h3.95v-50.7zM1502.6 821.7v31.2h3.95v-31.2zM1506.5 845.1v7.8h3.95v-7.8zM1510.4 845.1v7.8h3.95v-7.8zM1514.3 845.1v7.8h3.95v-7.8zM1518.2 837.3v11.7h3.95v-11.7zM1522.1 833.4v7.8h3.95v-7.8zM1526.0 813.9v19.5h3.95v-19.5zM1529.9 751.4v62.4h3.95v-62.4zM1533.8 638.2v113.2h3.95v-113.2zM1537.7 544.6v93.7h3.95v-93.7zM1541.6 540.7v101.5h3.95v-101.5zM1545.5 642.1v124.9h3.95v-124.9zM1549.4 767.0v62.4h3.95v-62.4zM1553.3 829.5v11.7h3.95v-11.7zM1557.2 837.3v11.7h3.95v-11.7zM1561.1 845.1v11.7h3.95v-11.7zM1565.0 856.8v7.8h3.95v-7.8zM1568.9 860.7v3.9h3.95v-3.9zM1572.8 856.8v3.9h3.95v-3.9zM1576.7 852.9v3.9h3.95v-3.9zM1580.6 845.1v11.7h3.95v-11.7zM1584.6 806.1v39.0h3.95v-39.0zM1588.5 731.9v74.2h3.95v-74.2zM1592.4 657.8v74.2h3.95v-74.2zM1596.3 646.0v58.5h3.95v-58.5zM1600.2 704.6v89.8h3.95v-89.8zM1604.1 794.4v50.7h3.95v-50.7zM1608.0 845.1v11.7h3.95v-11.7zM1611.9 852.9v11.7h3.95v-11.7zM1615.8 849.0v11.7h3.95v-11.7zM1619.7 837.3v11.7h3.95v-11.7zM1623.6 829.5v7.8h3.95v-7.8zM1627.5 829.5v11.7h3.95v-11.7zM1631.4 841.2v15.6h3.95v-15.6zM1635.3 856.8v15.6h3.95v-15.6zM1639.2 864.6v7.8h3.95v-7.8zM1643.1 864.6v7.8h3.95v-7.8zM1647.0 864.6v7.8h3.95v-7.8zM1650.9 860.7v7.8h3.95v-7.8zM1654.8 860.7v7.8h3.95v-7.8zM1658.7 849.0v11.7h3.95v-11.7zM1662.6 837.3v11.7h3.95v-11.7zM1666.5 821.7v15.6h3.95v-15.6zM1670.4 763.1v58.5h3.95v-58.5zM1674.3 673.4v89.8h3.95v-89.8zM1678.2 642.1v31.2h3.95v-31.2zM1682.1 661.7v93.7h3.95v-93.7zM1686.0 755.3v74.2h3.95v-74.2zM1689.9 829.5v27.3h3.95v-27.3zM1693.8 856.8v3.9h3.95v-3.9zM1697.7 860.7v7.8h3.95v-7.8zM1701.6 856.8v7.8h3.95v-7.8zM1705.5 852.9v7.8h3.95v-7.8zM1709.4 856.8v3.9h3.95v-3.9zM1713.3 849.0v11.7h3.95v-11.7zM1717.3 849.0v7.8h3.95v-7.8zM1721.2 849.0v7.8h3.95v-7.8zM1725.1 856.8v3.9h3.95v-3.9zM1729.0 860.7v7.8h3.95v-7.8zM1732.9 860.7v7.8h3.95v-7.8zM1736.8 849.0v11.7h3.95v-11.7zM1740.7 841.2v7.8h3.95v-7.8zM1744.6 841.2v7.8h3.95v-7.8zM1748.5 845.1v15.6h3.95v-15.6zM1752.4 856.8v11.7h3.95v-11.7zM1756.3 868.5v3.9h3.95v-3.9zM1760.2 868.5v7.8h3.95v-7.8zM1764.1 872.4v7.8h3.95v-7.8zM1768.0 872.4v7.8h3.95v-7.8zM1771.9 872.4v7.8h3.95v-7.8zM1775.8 868.5v7.8h3.95v-7.8zM1779.7 860.7v11.7h3.95v-11.7zM1783.6 860.7v7.8h3.95v-7.8zM1787.5 860.7v7.8h3.95v-7.8zM1791.4 864.6v7.8h3.95v-7.8zM1795.3 868.5v7.8h3.95v-7.8zM1799.2 872.4v3.9h3.95v-3.9zM1803.1 868.5v7.8h3.95v-7.8zM1807.0 864.6v3.9h3.95v-3.9zM1810.9 849.0v15.6h3.95v-15.6zM1814.8 833.4v15.6h3.95v-15.6zM1818.7 817.8v15.6h3.95v-15.6zM1822.6 798.3v19.5h3.95v-19.5zM1826.5 778.7v23.4h3.95v-23.4zM1830.4 743.6v35.1h3.95v-35.1zM1834.3 724.1v19.5h3.95v-19.5zM1838.2 735.8v54.6h3.95v-54.6zM1842.1 790.5v46.8h3.95v-46.8zM1846.1 837.3v11.7h3.95v-11.7zM1850.0 817.8v23.4h3.95v-23.4zM1853.9 802.2v15.6h3.95v-15.6zM1857.8 794.4v11.7h3.95v-11.7zM1861.7 806.1v35.1h3.95v-35.1zM1865.6 841.2v23.4h3.95v-23.4zM1869.5 860.7v11.7h3.95v-11.7zM1873.4 868.5v7.8h3.95v-7.8zM1877.3 872.4v3.9h3.95v-3.9zM1881.2 876.3v3.9h3.95v-3.9zM1885.1 876.3v3.9h3.95v-3.9zM1889.0 876.3v3.9h3.95v-3.9zM1892.9 876.3v3.9h3.95v-3.9zM1896.8 872.4v7.8h3.95v-7.8zM1900.7 864.6v7.8h3.95v-7.8zM1904.6 856.8v7.8h3.95v-7.8zM1908.5 856.8v7.8h3.95v-7.8zM1912.4 864.6v7.8h3.95v-7.8zM1916.3 868.5v7.8h3.95v-7.8zM1920.2 872.4v7.8h3.95v-7.8zM1924.1 872.4v7.8h3.95v-7.8zM1928.0 868.5v11.7h3.95v-11.7zM1931.9 852.9v15.6h3.95v-15.6zM1935.8 833.4v23.4h3.95v-23.4zM1939.7 829.5v7.8h3.95v-7.8zM1943.6 829.5v11.7h3.95v-11.7zM1947.5 841.2v15.6h3.95v-15.6zM1951.4 856.8v11.7h3.95v-11.7zM1955.3 852.9v15.6h3.95v-15.6zM1959.2 837.3v15.6h3.95v-15.6zM1963.1 829.5v11.7h3.95v-11.7zM1967.0 829.5v11.7h3.95v-11.7zM1970.9 841.2v15.6h3.95v-15.6zM1974.9 856.8v15.6h3.95v-15.6zM1978.8 868.5v7.8h3.95v-7.8zM1982.7 872.4v7.8h3.95v-7.8zM1986.6 864.6v7.8h3.95v-7.8zM1990.5 856.8v7.8h3.95v-7.8zM1994.4 849.0v7.8h3.95v-7.8zM1998.3 837.3v11.7h3.95v-11.7zM2002.2 829.5v11.7h3.95v-11.7zM2006.1 829.5v11.7h3.95v-11.7zM2010.0 837.3v7.8h3.95v-7.8zM2013.9 845.1v7.8h3.95v-7.8zM2017.8 852.9v11.7h3.95v-11.7zM2021.7 864.6v11.7h3.95v-11.7zM2025.6 876.3v7.8h3.95v-7.8zM2029.5 876.3v7.8h3.95v-7.8zM2033.4 872.4v7.8h3.95v-7.8zM2037.3 876.3v3.9h3.95v-3.9zM2041.2 872.4v7.8h3.95v-7.8zM2045.1 876.3v3.9h3.95v-3.9zM2049.0 876.3v7.8h3.95v-7.8zM2052.9 880.2v3.9h3.95v-3.9zM2056.8 880.2v3.9h3.95v-3.9zM2060.7 876.3v7.8h3.95v-7.8zM2064.6 876.3v3.9h3.95v-3.9zM2068.5 876.3v3.9h3.95v-3.9zM2072.4 876.3v3.9h3.95v-3.9zM2076.3 876.3v7.8h3.95v-7.8zM2080.2 880.2v7.8h3.95v-7.8zM2084.1 880.2v7.8h3.95v-7.8zM2088.0 880.2v3.9h3.95v-3.9zM2091.9 880.2v7.8h3.95v-7.8zM2095.8 880.2v3.9h3.95v-3.9zM2099.7 880.2v3.9h3.95v-3.9zM2103.7 872.4v7.8h3.95v-7.8zM2107.6 864.6v11.7h3.95v-11.7zM2111.5 860.7v7.8h3.95v-7.8zM2115.4 860.7v7.8h3.95v-7.8zM2119.3 864.6v7.8h3.95v-7.8zM2123.2 868.5v7.8h3.95v-7.8zM2127.1 868.5v7.8h3.95v-7.8zM2131.0 860.7v7.8h3.95v-7.8zM2134.9 860.7v7.8h3.95v-7.8zM2138.8 864.6v7.8h3.95v-7.8zM2142.7 868.5v11.7h3.95v-11.7zM2146.6 876.3v3.9h3.95v-3.9zM2150.5 876.3v7.8h3.95v-7.8z"/>
<path fill="#008000" d="M351.2 1141.7v3.9h3.95v-3.9zM355.1 1137.8v3.9h3.95v-3.9zM359.0 1137.8v7.8h3.95v-7.8zM362.9 1133.9v7.8h3.95v-7.8zM366.8 1130.0v7.8h3.95v-7.8zM370.7 1126.1v7.8h3.95v-7.8zM374.6 1118.3v11.7h3.95v-11.7zM378.5 1106.6v11.7h3.95v-11.7zM382.4 1083.2v23.4h3.95v-23.4zM386.3 1052.0v31.2h3.95v-31.2zM390.2 1040.2v15.6h3.95v-15.6zM394.1 1055.9v74.2h3.95v-74.2zM398.0 1130.0v23.4h3.95v-23.4zM401.9 1149.5v7.8h3.95v-7.8zM405.8 1149.5v7.8h3.95v-7.8zM409.7 1153.4v7.8h3.95v-7.8zM413.7 1157.3v7.8h3.95v-7.8zM417.6 1157.3v7.8h3.95v-7.8zM421.5 1161.2v7.8h3.95v-7.8zM425.4 1165.1v3.9h3.95v-3.9zM429.3 1165.1v3.9h3.95v-3.9zM433.2 1165.1v3.9h3.95v-3.9zM437.1 1165.1v3.9h3.95v-3.9zM441.0 1165.1v7.8h3.95v-7.8zM444.9 1165.1v7.8h3.95v-7.8zM448.8 1169.0v3.9h3.95v-3.9zM452.7 1165.1v7.8h3.95v-7.8zM456.6 1169.0v3.9h3.95v-3.9zM460.5 1169.0v7.8h3.95v-7.8zM464.4 1169.0v3.9h3.95v-3.9zM468.3 1169.0v7.8h3.95v-7.8zM472.2 1172.9v7.8h3.95v-7.8zM476.1 1172.9v3.9h3.95v-3.9zM480.0 1172.9v7.8h3.95v-7.8zM483.9 1172.9v7.8h3.95v-7.8zM487.8 1172.9v7.8h3.95v-7.8zM491.7 1172.9v7.8h3.95v-7.8zM495.6 1172.9v7.8h3.95v-7.8zM499.5 1172.9v7.8h3.95v-7.8zM503.4 1176.9v3.9h3.95v-3.9zM507.3 1176.9v3.9h3.95v-3.9zM511.2 1176.9v3.9h3.95v-3.9zM515.1 1176.9v7.8h3.95v-7.8zM519.0 1176.9v7.8h3.95v-7.8zM522.9 1176.9v7.8h3.95v-7.8zM526.8 1176.9v7.8h3.95v-7.8zM530.7 1180.8v3.9h3.95v-3.9zM534.6 1180.8v3.9h3.95v-3.9zM538.5 1176.9v7.8h3.95v-7.8zM542.5 1176.9v7.8h3.95v-7.8zM546.4 1180.8v3.9h3.95v-3.9zM550.3 1180.8v7.8h3.95v-7.8zM554.2 1180.8v7.8h3.95v-7.8zM558.1 1180.8v7.8h3.95v-7.8zM562.0 1180.8v7.8h3.95v-7.8zM565.9 1180.8v7.8h3.95v-7.8zM569.8 1184.7v3.9h3.95v-3.9zM573.7 1180.8v7.8h3.95v-7.8zM577.6 1180.8v7.8h3.95v-7.8zM581.5 1184.7v3.9h3.95v-3.9zM585.4 1184.7v3.9h3.95v-3.9zM589.3 1184.7v3.9h3.95v-3.9zM593.2 1184.7v3.9h3.95v-3.9zM597.1 1184.7v7.8h3.95v-7.8zM601.0 1184.7v7.8h3.95v-7.8zM604.9 1184.7v7.8h3.95v-7.8zM608.8 1184.7v7.8h3.95v-7.8zM612.7 1188.6v3.9h3.95v-3.9zM616.6 1188.6v3.9h3.95v-3.9zM620.5 1188.6v3.9h3.95v-3.9zM624.4 1188.6v3.9h3.95v-3.9zM628.3 1188.6v3.9h3.95v-3.9zM632.2 1188.6v7.8h3.95v-7.8zM636.1 1188.6v7.8h3.95v-7.8zM640.0 1188.6v7.8h3.95v-7.8zM643.9 1188.6v7.8h3.95v-7.8zM647.8 1188.6v7.8h3.95v-7.8zM651.7 1184.7v7.8h3.95v-7.8zM655.6 1184.7v7.8h3.95v-7.8zM659.5 1184.7v3.9h3.95v-3.9zM663.4 1184.7v7.8h3.95v-7.8zM667.3 1188.6v3.9h3.95v-3.9zM671.2 1184.7v7.8h3.95v-7.8zM675.2 1184.7v7.8h3.95v-7.8zM679.1 1188.6v7.8h3.95v-7.8zM683.0 1188.6v3.9h3.95v-3.9zM686.9 1188.6v3.9h3.95v-3.9zM690.8 1184.7v3.9h3.95v-3.9zM694.7 1180.8v7.8h3.95v-7.8zM698.6 1172.9v11.7h3.95v-11.7zM702.5 1161.2v15.6h3.95v-15.6zM706.4 1157.3v3.9h3.95v-3.9zM710.3 1153.4v11.7h3.95v-11.7zM714.2 1165.1v23.4h3.95v-23.4zM718.1 1188.6v7.8h3.95v-7.8zM722.0 1192.5v3.9h3.95v-3.9zM725.9 1192.5v3.9h3.95v-3.9zM729.8 1188.6v7.8h3.95v-7.8zM733.7 1188.6v7.8h3.95v-7.8zM737.6 1184.7v7.8h3.95v-7.8zM741.5 1176.9v11.7h3.95v-11.7zM745.4 1176.9v7.8h3.95v-7.8zM749.3 1180.8v11.7h3.95v-11.7zM753.2 1188.6v7.8h3.95v-7.8zM757.1 1192.5v7.8h3.95v-7.8zM761.0 1196.4v3.9h3.95v-3.9zM764.9 1196.4v7.8h3.95v-7.8zM768.8 1196.4v3.9h3.95v-3.9zM772.7 1196.4v7.8h3.95v-7.8zM776.6 1196.4v3.9h3.95v-3.9zM780.5 1196.4v7.8h3.95v-7.8zM784.4 1196.4v7.8h3.95v-7.8zM788.3 1196.4v3.9h3.95v-3.9zM792.2 1196.4v7.8h3.95v-7.8zM796.1 1196.4v7.8h3.95v-7.8zM800.0 1196.4v7.8h3.95v-7.8zM804.0 1196.4v7.8h3.95v-7.8zM807.9 1196.4v3.9h3.95v-3.9zM811.8 1196.4v7.8h3.95v-7.8zM815.7 1196.4v7.8h3.95v-7.8zM819.6 1196.4v7.8h3.95v-7.8zM823.5 1196.4v3.9h3.95v-3.9zM827.4 1196.4v7.8h3.95v-7.8zM831.3 1196.4v7.8h3.95v-7.8zM835.2 1192.5v7.8h3.95v-7.8zM839.1 1192.5v3.9h3.95v-3.9zM843.0 1188.6v7.8h3.95v-7.8zM846.9 1176.9v11.7h3.95v-11.7zM850.8 1157.3v19.5h3.95v-19.5zM854.7 1137.8v19.5h3.95v-19.5zM858.6 1130.0v7.8h3.95v-7.8zM862.5 1133.9v23.4h3.95v-23.4zM866.4 1157.3v27.3h3.95v-27.3zM870.3 1184.7v7.8h3.95v-7.8zM874.2 1184.7v7.8h3.95v-7.8zM878.1 1176.9v7.8h3.95v-7.8zM882.0 1169.0v11.7h3.95v-11.7zM885.9 1169.0v7.8h3.95v-7.8zM889.8 1172.9v15.6h3.95v-15.6zM893.7 1188.6v11.7h3.95v-11.7zM897.6 1196.4v3.9h3.95v-3.9zM901.5 1196.4v7.8h3.95v-7.8zM905.4 1196.4v7.8h3.95v-7.8zM909.3 1196.4v7.8h3.95v-7.8zM913.2 1200.3v3.9h3.95v-3.9zM917.1 1200.3v3.9h3.95v-3.9zM921.0 1200.3v7.8h3.95v-7.8zM924.9 1200.3v3.9h3.95v-3.9zM928.8 1200.3v3.9h3.95v-3.9zM932.8 1200.3v3.9h3.95v-3.9zM936.7 1200.3v3.9h3.95v-3.9zM940.6 1196.4v7.8h3.95v-7.8zM944.5 1196.4v7.8h3.95v-7.8zM948.4 1196.4v7.8h3.95v-7.8zM952.3 1192.5v11.7h3.95v-11.7zM956.2 1192.5v3.9h3.95v-3.9zM960.1 1192.5v3.9h3.95v-3.9zM964.0 1192.5v11.7h3.95v-11.7zM967.9 1200.3v3.9h3.95v-3.9zM971.8 1200.3v7.8h3.95v-7.8zM975.7 1200.3v7.8h3.95v-7.8zM979.6 1200.3v7.8h3.95v-7.8zM983.5 1200.3v7.8h3.95v-7.8zM987.4 1200.3v3.9h3.95v-3.9zM991.3 1200.3v7.8h3.95v-7.8zM995.2 1200.3v3.9h3.95v-3.9zM999.1 1200.3v7.8h3.95v-7.8zM1003.0 1200.3v3.9h3.95v-3.9zM1006.9 1196.4v7.8h3.95v-7.8zM1010.8 1196.4v7.8h3.95v-7.8zM1014.7 1192.5v7.8h3.95v-7.8zM1018.6 1192.5v7.8h3.95v-7.8zM1022.5 1196.4v3.9h3.95v-3.9zM1026.4 1196.4v7.8h3.95v-7.8zM1030.3 1200.3v7.8h3.95v-7.8zM1034.2 1200.3v7.8h3.95v-7.8zM1038.1 1200.3v7.8h3.95v-7.8zM1042.0 1200.3v7.8h3.95v-7.8zM1045.9 1200.3v7.8h3.95v-7.8zM1049.8 1200.3v7.8h3.95v-7.8zM1053.7 1200.3v7.8h3.95v-7.8zM1057.6 1200.3v7.8h3.95v-7.8zM1061.5 1200.3v7.8h3.95v-7.8zM1065.5 1196.4v7.8h3.95v-7.8zM1069.4 1192.5v7.8h3.95v-7.8zM1073.3 1188.6v7.8h3.95v-7.8zM1077.2 1176.9v15.6h3.95v-15.6zM1081.1 1161.2v19.5h3.95v-19.5zM1085.0 1145.6v15.6h3.95v-15.6zM1088.9 1118.3v27.3h3.95v-27.3zM1092.8 1079.3v39.0h3.95v-39.0zM1096.7 1063.7v27.3h3.95v-27.3zM1100.6 1091.0v78.1h3.95v-78.1zM1104.5 1169.0v23.4h3.95v-23.4zM1108.4 1192.5v3.9h3.95v-3.9zM1112.3 1196.4v3.9h3.95v-3.9zM1116.2 1192.5v7.8h3.95v-7.8zM1120.1 1188.6v7.8h3.95v-7.8zM1124.0 1184.7v7.8h3.95v-7.8zM1127.9 1176.9v11.7h3.95v-11.7zM1131.8 1161.2v15.6h3.95v-15.6zM1135.7 1157.3v7.8h3.95v-7.8zM1139.6 1161.2v19.5h3.95v-19.5zM1143.5 1180.8v7.8h3.95v-7.8zM1147.4 1176.9v11.7h3.95v-11.7zM1151.3 1169.0v11.7h3.95v-11.7zM1155.2 1165.1v7.8h3.95v-7.8zM1159.1 1169.0v19.5h3.95v-19.5zM1163.0 1188.6v11.7h3.95v-11.7zM1166.9 1192.5v3.9h3.95v-3.9zM1170.8 1196.4v3.9h3.95v-3.9zM1174.7 1196.4v3.9h3.95v-3.9zM1178.6 1196.4v3.9h3.95v-3.9zM1182.5 1196.4v7.8h3.95v-7.8zM1186.4 1196.4v7.8h3.95v-7.8zM1190.3 1200.3v3.9h3.95v-3.9zM1194.3 1200.3v3.9h3.95v-3.9zM1198.2 1200.3v3.9h3.95v-3.9zM1202.1 1196.4v7.8h3.95v-7.8zM1206.0 1196.4v7.8h3.95v-7.8zM1209.9 1196.4v3.9h3.95v-3.9zM1213.8 1196.4v3.9h3.95v-3.9zM1217.7 1192.5v7.8h3.95v-7.8zM1221.6 1192.5v7.8h3.95v-7.8zM1225.5 1192.5v7.8h3.95v-7.8zM1229.4 1192.5v7.8h3.95v-7.8zM1233.3 1192.5v3.9h3.95v-3.9zM1237.2 1192.5v3.9h3.95v-3.9zM1241.1 1188.6v7.8h3.95v-7.8zM1245.0 1180.8v11.7h3.95v-11.7zM1248.9 1169.0v15.6h3.95v-15.6zM1252.8 1161.2v11.7h3.95v-11.7zM1256.7 1141.7v19.5h3.95v-19.5zM1260.6 1102.7v39.0h3.95v-39.0zM1264.5 1040.2v62.4h3.95v-62.4zM1268.4 1016.8v23.4h3.95v-23.4zM1272.3 1040.2v82.0h3.95v-82.0zM1276.2 1122.2v62.4h3.95v-62.4zM1280.1 1184.7v3.9h3.95v-3.9zM1284.0 1184.7v7.8h3.95v-7.8zM1287.9 1188.6v7.8h3.95v-7.8zM1291.8 1184.7v7.8h3.95v-7.8zM1295.7 1176.9v11.7h3.95v-11.7zM1299.6 1169.0v7.8h3.95v-7.8zM1303.5 1169.0v7.8h3.95v-7.8zM1307.4 1176.9v7.8h3.95v-7.8zM1311.3 1184.7v7.8h3.95v-7.8zM1315.2 1188.6v7.8h3.95v-7.8zM1319.1 1192.5v7.8h3.95v-7.8zM1323.0 1192.5v7.8h3.95v-7.8zM1327.0 1188.6v7.8h3.95v-7.8zM1330.9 1184.7v7.8h3.95v-7.8zM1334.8 1184.7v3.9h3.95v-3.9zM1338.7 1176.9v7.8h3.95v-7.8zM1342.6 1161.2v15.6h3.95v-15.6zM1346.5 1126.1v35.1h3.95v-35.1zM1350.4 1091.0v35.1h3.95v-35.1zM1354.3 1087.1v27.3h3.95v-27.3zM1358.2 1114.4v46.8h3.95v-46.8zM1362.1 1161.2v27.3h3.95v-27.3zM1366.0 1184.7v7.8h3.95v-7.8zM1369.9 1188.6v7.8h3.95v-7.8zM1373.8 1188.6v7.8h3.95v-7.8zM1377.7 1192.5v7.8h3.95v-7.8zM1381.6 1188.6v7.8h3.95v-7.8zM1385.5 1188.6v3.9h3.95v-3.9zM1389.4 1184.7v7.8h3.95v-7.8zM1393.3 1176.9v7.8h3.95v-7.8zM1397.2 1169.0v7.8h3.95v-7.8zM1401.1 1161.2v7.8h3.95v-7.8zM1405.0 1153.4v7.8h3.95v-7.8zM1408.9 1126.1v27.3h3.95v-27.3zM1412.8 1075.4v50.7h3.95v-50.7zM1416.7 1052.0v23.4h3.95v-23.4zM1420.6 1055.9v58.5h3.95v-58.5zM1424.5 1114.4v50.7h3.95v-50.7zM1428.4 1165.1v19.5h3.95v-19.5zM1432.3 1180.8v7.8h3.95v-7.8zM1436.2 1184.7v7.8h3.95v-7.8zM1440.1 1188.6v7.8h3.95v-7.8zM1444.0 1184.7v7.8h3.95v-7.8zM1447.9 1180.8v7.8h3.95v-7.8zM1451.8 1180.8v11.7h3.95v-11.7zM1455.8 1184.7v11.7h3.95v-11.7zM1459.7 1192.5v3.9h3.95v-3.9zM1463.6 1192.5v7.8h3.95v-7.8zM1467.5 1188.6v7.8h3.95v-7.8zM1471.4 1184.7v7.8h3.95v-7.8zM1475.3 1176.9v11.7h3.95v-11.7zM1479.2 1176.9v7.8h3.95v-7.8zM1483.1 1169.0v7.8h3.95v-7.8zM1487.0 1153.4v15.6h3.95v-15.6zM1490.9 1126.1v27.3h3.95v-27.3zM1494.8 1094.9v31.2h3.95v-31.2zM1498.7 1094.9v27.3h3.95v-27.3zM1502.6 1122.2v35.1h3.95v-35.1zM1506.5 1157.3v15.6h3.95v-15.6zM1510.4 1169.0v3.9h3.95v-3.9zM1514.3 1165.1v7.8h3.95v-7.8zM1518.2 1161.2v7.8h3.95v-7.8zM1522.1 1153.4v11.7h3.95v-11.7zM1526.0 1149.5v11.7h3.95v-11.7zM1529.9 1126.1v27.3h3.95v-27.3zM1533.8 1067.6v58.5h3.95v-58.5zM1537.7 973.9v93.7h3.95v-93.7zM1541.6 938.8v35.1h3.95v-35.1zM1545.5 966.1v89.8h3.95v-89.8zM1549.4 1055.9v74.2h3.95v-74.2zM1553.3 1130.0v23.4h3.95v-23.4zM1557.2 1153.4v23.4h3.95v-23.4zM1561.1 1172.9v7.8h3.95v-7.8zM1565.0 1176.9v7.8h3.95v-7.8zM1568.9 1180.8v7.8h3.95v-7.8zM1572.8 1180.8v11.7h3.95v-11.7zM1576.7 1172.9v11.7h3.95v-11.7zM1580.6 1169.0v7.8h3.95v-7.8zM1584.6 1153.4v15.6h3.95v-15.6zM1588.5 1126.1v31.2h3.95v-31.2zM1592.4 1075.4v50.7h3.95v-50.7zM1596.3 1028.5v46.8h3.95v-46.8zM1600.2 1024.6v62.4h3.95v-62.4zM1604.1 1087.1v78.1h3.95v-78.1zM1608.0 1165.1v15.6h3.95v-15.6zM1611.9 1180.8v3.9h3.95v-3.9zM1615.8 1184.7v3.9h3.95v-3.9zM1619.7 1176.9v7.8h3.95v-7.8zM1623.6 1169.0v7.8h3.95v-7.8zM1627.5 1165.1v7.8h3.95v-7.8zM1631.4 1165.1v11.7h3.95v-11.7zM1635.3 1172.9v15.6h3.95v-15.6zM1639.2 1184.7v3.9h3.95v-3.9zM1643.1 1188.6v7.8h3.95v-7.8zM1647.0 1192.5v7.8h3.95v-7.8zM1650.9 1184.7v7.8h3.95v-7.8zM1654.8 1180.8v7.8h3.95v-7.8zM1658.7 1172.9v11.7h3.95v-11.7zM1662.6 1153.4v19.5h3.95v-19.5zM1666.5 1130.0v23.4h3.95v-23.4zM1670.4 1106.6v23.4h3.95v-23.4zM1674.3 1055.9v50.7h3.95v-50.7zM1678.2 1016.8v39.0h3.95v-39.0zM1682.1 1012.9v58.5h3.95v-58.5zM1686.0 1071.5v78.1h3.95v-78.1zM1689.9 1149.5v27.3h3.95v-27.3zM1693.8 1176.9v7.8h3.95v-7.8zM1697.7 1180.8v7.8h3.95v-7.8zM1701.6 1184.7v3.9h3.95v-3.9zM1705.5 1184.7v3.9h3.95v-3.9zM1709.4 1180.8v7.8h3.95v-7.8zM1713.3 1180.8v3.9h3.95v-3.9zM1717.3 1176.9v7.8h3.95v-7.8zM1721.2 1176.9v7.8h3.95v-7.8zM1725.1 1176.9v7.8h3.95v-7.8zM1729.0 1184.7v7.8h3.95v-7.8zM1732.9 1188.6v7.8h3.95v-7.8zM1736.8 1184.7v7.8h3.95v-7.8zM1740.7 1180.8v7.8h3.95v-7.8zM1744.6 1172.9v7.8h3.95v-7.8zM1748.5 1169.0v7.8h3.95v-7.8zM1752.4 1172.9v7.8h3.95v-7.8zM1756.3 1180.8v11.7h3.95v-11.7zM1760.2 1192.5v3.9h3.95v-3.9zM1764.1 1192.5v7.8h3.95v-7.8zM1768.0 1196.4v3.9h3.95v-3.9zM1771.9 1196.4v7.8h3.95v-7.8zM1775.8 1192.5v7.8h3.95v-7.8zM1779.7 1188.6v7.8h3.95v-7.8zM1783.6 1184.7v7.8h3.95v-7.8zM1787.5 1180.8v7.8h3.95v-7.8zM1791.4 1184.7v3.9h3.95v-3.9zM1795.3 1184.7v7.8h3.95v-7.8zM1799.2 1192.5v3.9h3.95v-3.9zM1803.1 1192.5v7.8h3.95v-7.8zM1807.0 1188.6v7.8h3.95v-7.8zM1810.9 1180.8v7.8h3.95v-7.8zM1814.8 1169.0v15.6h3.95v-15.6zM1818.7 1153.4v15.6h3.95v-15.6zM1822.6 1133.9v19.5h3.95v-19.5zM1826.5 1118.3v15.6h3.95v-15.6zM1830.4 1094.9v23.4h3.95v-23.4zM1834.3 1079.3v15.6h3.95v-15.6zM1838.2 1075.4v31.2h3.95v-31.2zM1842.1 1106.6v42.9h3.95v-42.9zM1846.1 1149.5v27.3h3.95v-27.3zM1850.0 1161.2v15.6h3.95v-15.6zM1853.9 1141.7v19.5h3.95v-19.5zM1857.8 1130.0v11.7h3.95v-11.7zM1861.7 1130.0v19.5h3.95v-19.5zM1865.6 1149.5v23.4h3.95v-23.4zM1869.5 1172.9v19.5h3.95v-19.5zM1873.4 1188.6v7.8h3.95v-7.8zM1877.3 1192.5v7.8h3.95v-7.8zM1881.2 1196.4v3.9h3.95v-3.9zM1885.1 1196.4v7.8h3.95v-7.8zM1889.0 1196.4v3.9h3.95v-3.9zM1892.9 1196.4v3.9h3.95v-3.9zM1896.8 1196.4v3.9h3.95v-3.9zM1900.7 1192.5v7.8h3.95v-7.8zM1904.6 1184.7v7.8h3.95v-7.8zM1908.5 1180.8v7.8h3.95v-7.8zM1912.4 1180.8v11.7h3.95v-11.7zM1916.3 1188.6v7.8h3.95v-7.8zM1920.2 1196.4v3.9h3.95v-3.9zM1924.1 1196.4v7.8h3.95v-7.8zM1928.0 1196.4v3.9h3.95v-3.9zM1931.9 1192.5v7.8h3.95v-7.8zM1935.8 1176.9v19.5h3.95v-19.5zM1939.7 1161.2v15.6h3.95v-15.6zM1943.6 1157.3v7.8h3.95v-7.8zM1947.5 1161.2v11.7h3.95v-11.7zM1951.4 1169.0v15.6h3.95v-15.6zM1955.3 1184.7v7.8h3.95v-7.8zM1959.2 1172.9v15.6h3.95v-15.6zM1963.1 1157.3v19.5h3.95v-19.5zM1967.0 1153.4v7.8h3.95v-7.8zM1970.9 1157.3v11.7h3.95v-11.7zM1974.9 1169.0v19.5h3.95v-19.5zM1978.8 1188.6v7.8h3.95v-7.8zM1982.7 1192.5v7.8h3.95v-7.8zM1986.6 1200.3v3.9h3.95v-3.9zM1990.5 1192.5v11.7h3.95v-11.7zM1994.4 1184.7v11.7h3.95v-11.7zM1998.3 1172.9v11.7h3.95v-11.7zM2002.2 1157.3v15.6h3.95v-15.6zM2006.1 1157.3v7.8h3.95v-7.8zM2010.0 1165.1v7.8h3.95v-7.8zM2013.9 1169.0v11.7h3.95v-11.7zM2017.8 1180.8v7.8h3.95v-7.8zM2021.7 1184.7v7.8h3.95v-7.8zM2025.6 1188.6v7.8h3.95v-7.8zM2029.5 1192.5v7.8h3.95v-7.8zM2033.4 1196.4v7.8h3.95v-7.8zM2037.3 1196.4v7.8h3.95v-7.8zM2041.2 1196.4v3.9h3.95v-3.9zM2045.1 1192.5v7.8h3.95v-7.8zM2049.0 1192.5v7.8h3.95v-7.8zM2052.9 1196.4v3.9h3.95v-3.9zM2056.8 1196.4v7.8h3.95v-7.8zM2060.7 1196.4v7.8h3.95v-7.8zM2064.6 1200.3v3.9h3.95v-3.9zM2068.5 1200.3v7.8h3.95v-7.8zM2072.4 1200.3v7.8h3.95v-7.8zM2076.3 1200.3v7.8h3.95v-7.8zM2080.2 1200.3v7.8h3.95v-7.8zM2084.1 1200.3v7.8h3.95v-7.8zM2088.0 1200.3v7.8h3.95v-7.8zM2091.9 1200.3v7.8h3.95v-7.8zM2095.8 1200.3v7.8h3.95v-7.8zM2099.7 1200.3v7.8h3.95v-7.8zM2103.7 1196.4v7.8h3.95v-7.8zM2107.6 1188.6v11.7h3.95v-11.7zM2111.5 1184.7v7.8h3.95v-7.8zM2115.4 1184.7v3.9h3.95v-3.9zM2119.3 1184.7v7.8h3.95v-7.8zM2123.2 1188.6v11.7h3.95v-11.7zM2127.1 1192.5v7.8h3.95v-7.8zM2131.0 1184.7v7.8h3.95v-7.8zM2134.9 1180.8v7.8h3.95v-7.8zM2138.8 1184.7v7.8h3.95v-7.8zM2142.7 1188.6v7.8h3.95v-7.8zM2146.6 1196.4v3.9h3.95v-3.9zM2150.5 1196.4v7.8h3.95v-7.8z"/>
<path fill="#ff0000" d="M351.2 1438.4v7.8h3.95v-7.8zM355.1 1438.4v3.9h3.95v-3.9zM359.0 1438.4v3.9h3.95v-3.9zM362.9 1430.5v11.7h3.95v-11.7zM366.8 1422.7v11.7h3.95v-11.7zM370.7 1411.0v15.6h3.95v-15.6zM374.6 1399.3v11.7h3.95v-11.7zM378.5 1352.5v46.8h3.95v-46.8zM382.4 1329.1v23.4h3.95v-23.4zM386.3 1344.7v62.4h3.95v-62.4zM390.2 1407.1v42.9h3.95v-42.9zM394.1 1450.1v11.7h3.95v-11.7zM398.0 1457.9v3.9h3.95v-3.9zM401.9 1461.8v7.8h3.95v-7.8zM405.8 1461.8v3.9h3.95v-3.9zM409.7 1465.7v7.8h3.95v-7.8zM413.7 1465.7v7.8h3.95v-7.8zM417.6 1469.6v3.9h3.95v-3.9zM421.5 1469.6v3.9h3.95v-3.9zM425.4 1469.6v7.8h3.95v-7.8zM429.3 1469.6v7.8h3.95v-7.8zM433.2 1469.6v7.8h3.95v-7.8zM437.1 1473.5v3.9h3.95v-3.9zM441.0 1473.5v3.9h3.95v-3.9zM444.9 1473.5v7.8h3.95v-7.8zM448.8 1473.5v7.8h3.95v-7.8zM452.7 1477.4v3.9h3.95v-3.9zM456.6 1477.4v3.9h3.95v-3.9zM460.5 1477.4v3.9h3.95v-3.9zM464.4 1477.4v7.8h3.95v-7.8zM468.3 1481.3v3.9h3.95v-3.9zM472.2 1477.4v7.8h3.95v-7.8zM476.1 1481.3v3.9h3.95v-3.9zM480.0 1481.3v3.9h3.95v-3.9zM483.9 1481.3v7.8h3.95v-7.8zM487.8 1481.3v7.8h3.95v-7.8zM491.7 1481.3v7.8h3.95v-7.8zM495.6 1481.3v7.8h3.95v-7.8zM499.5 1481.3v7.8h3.95v-7.8zM503.4 1485.2v3.9h3.95v-3.9zM507.3 1481.3v7.8h3.95v-7.8zM511.2 1485.2v3.9h3.95v-3.9zM515.1 1485.2v7.8h3.95v-7.8zM519.0 1485.2v7.8h3.95v-7.8zM522.9 1485.2v7.8h3.95v-7.8zM526.8 1489.1v3.9h3.95v-3.9zM530.7 1489.1v3.9h3.95v-3.9zM534.6 1489.1v3.9h3.95v-3.9zM538.5 1489.1v3.9h3.95v-3.9zM542.5 1489.1v7.8h3.95v-7.8zM546.4 1489.1v3.9h3.95v-3.9zM550.3 1489.1v3.9h3.95v-3.9zM554.2 1489.1v7.8h3.95v-7.8zM558.1 1489.1v7.8h3.95v-7.8zM562.0 1489.1v7.8h3.95v-7.8zM565.9 1493.0v3.9h3.95v-3.9zM569.8 1489.1v7.8h3.95v-7.8zM573.7 1489.1v7.8h3.95v-7.8zM577.6 1493.0v3.9h3.95v-3.9zM581.5 1493.0v3.9h3.95v-3.9zM585.4 1493.0v3.9h3.95v-3.9zM589.3 1493.0v3.9h3.95v-3.9zM593.2 1493.0v3.9h3.95v-3.9zM597.1 1493.0v7.8h3.95v-7.8zM601.0 1493.0v7.8h3.95v-7.8zM604.9 1493.0v7.8h3.95v-7.8zM608.8 1493.0v7.8h3.95v-7.8zM612.7 1496.9v3.9h3.95v-3.9zM616.6 1493.0v7.8h3.95v-7.8zM620.5 1496.9v3.9h3.95v-3.9zM624.4 1496.9v3.9h3.95v-3.9zM628.3 1496.9v3.9h3.95v-3.9zM632.2 1496.9v3.9h3.95v-3.9zM636.1 1496.9v3.9h3.95v-3.9zM640.0 1496.9v3.9h3.95v-3.9zM643.9 1496.9v3.9h3.95v-3.9zM647.8 1496.9v3.9h3.95v-3.9zM651.7 1496.9v7.8h3.95v-7.8zM655.6 1496.9v3.9h3.95v-3.9zM659.5 1493.0v7.8h3.95v-7.8zM663.4 1493.0v3.9h3.95v-3.9zM667.3 1489.1v7.8h3.95v-7.8zM671.2 1489.1v7.8h3.95v-7.8zM675.2 1493.0v7.8h3.95v-7.8zM679.1 1496.9v3.9h3.95v-3.9zM683.0 1493.0v7.8h3.95v-7.8zM686.9 1493.0v3.9h3.95v-3.9zM690.8 1489.1v7.8h3.95v-7.8zM694.7 1477.4v15.6h3.95v-15.6zM698.6 1465.7v15.6h3.95v-15.6zM702.5 1461.8v7.8h3.95v-7.8zM706.4 1465.7v15.6h3.95v-15.6zM710.3 1481.3v15.6h3.95v-15.6zM714.2 1496.9v3.9h3.95v-3.9zM718.1 1500.8v3.9h3.95v-3.9zM722.0 1500.8v7.8h3.95v-7.8zM725.9 1500.8v7.8h3.95v-7.8zM729.8 1500.8v7.8h3.95v-7.8zM733.7 1504.7v3.9h3.95v-3.9zM737.6 1504.7v3.9h3.95v-3.9zM741.5 1504.7v3.9h3.95v-3.9zM745.4 1504.7v3.9h3.95v-3.9zM749.3 1504.7v3.9h3.95v-3.9zM753.2 1504.7v7.8h3.95v-7.8zM757.1 1504.7v3.9h3.95v-3.9zM761.0 1504.7v7.8h3.95v-7.8zM764.9 1504.7v7.8h3.95v-7.8zM768.8 1504.7v7.8h3.95v-7.8zM772.7 1504.7v7.8h3.95v-7.8zM776.6 1504.7v7.8h3.95v-7.8zM780.5 1504.7v7.8h3.95v-7.8zM784.4 1508.6v3.9h3.95v-3.9zM788.3 1504.7v7.8h3.95v-7.8zM792.2 1504.7v7.8h3.95v-7.8zM796.1 1504.7v7.8h3.95v-7.8zM800.0 1504.7v7.8h3.95v-7.8zM804.0 1504.7v7.8h3.95v-7.8zM807.9 1504.7v7.8h3.95v-7.8zM811.8 1504.7v7.8h3.95v-7.8zM815.7 1504.7v7.8h3.95v-7.8zM819.6 1504.7v7.8h3.95v-7.8zM823.5 1504.7v7.8h3.95v-7.8zM827.4 1504.7v7.8h3.95v-7.8zM831.3 1500.8v7.8h3.95v-7.8zM835.2 1496.9v7.8h3.95v-7.8zM839.1 1493.0v7.8h3.95v-7.8zM843.0 1485.2v11.7h3.95v-11.7zM846.9 1465.7v19.5h3.95v-19.5zM850.8 1434.5v31.2h3.95v-31.2zM854.7 1430.5v11.7h3.95v-11.7zM858.6 1442.3v35.1h3.95v-35.1zM862.5 1477.4v19.5h3.95v-19.5zM866.4 1493.0v7.8h3.95v-7.8zM870.3 1489.1v7.8h3.95v-7.8zM874.2 1481.3v11.7h3.95v-11.7zM878.1 1477.4v7.8h3.95v-7.8zM882.0 1481.3v7.8h3.95v-7.8zM885.9 1489.1v11.7h3.95v-11.7zM889.8 1500.8v7.8h3.95v-7.8zM893.7 1504.7v7.8h3.95v-7.8zM897.6 1504.7v7.8h3.95v-7.8zM901.5 1504.7v7.8h3.95v-7.8zM905.4 1504.7v7.8h3.95v-7.8zM909.3 1504.7v7.8h3.95v-7.8zM913.2 1504.7v7.8h3.95v-7.8zM917.1 1508.6v3.9h3.95v-3.9zM921.0 1508.6v7.8h3.95v-7.8zM924.9 1508.6v3.9h3.95v-3.9zM928.8 1508.6v7.8h3.95v-7.8zM932.8 1508.6v3.9h3.95v-3.9zM936.7 1508.6v3.9h3.95v-3.9zM940.6 1508.6v7.8h3.95v-7.8zM944.5 1508.6v7.8h3.95v-7.8zM948.4 1508.6v7.8h3.95v-7.8zM952.3 1512.5v3.9h3.95v-3.9zM956.2 1512.5v3.9h3.95v-3.9zM960.1 1512.5v3.9h3.95v-3.9zM964.0 1512.5v3.9h3.95v-3.9zM967.9 1512.5v3.9h3.95v-3.9zM971.8 1508.6v7.8h3.95v-7.8zM975.7 1508.6v7.8h3.95v-7.8zM979.6 1508.6v7.8h3.95v-7.8zM983.5 1512.5v3.9h3.95v-3.9zM987.4 1508.6v3.9h3.95v-3.9zM991.3 1508.6v7.8h3.95v-7.8zM995.2 1508.6v7.8h3.95v-7.8zM999.1 1512.5v3.9h3.95v-3.9zM1003.0 1508.6v7.8h3.95v-7.8zM1006.9 1508.6v7.8h3.95v-7.8zM1010.8 1512.5v3.9h3.95v-3.9zM1014.7 1508.6v7.8h3.95v-7.8zM1018.6 1508.6v7.8h3.95v-7.8zM1022.5 1508.6v7.8h3.95v-7.8zM1026.4 1508.6v7.8h3.95v-7.8zM1030.3 1512.5v3.9h3.95v-3.9zM1034.2 1508.6v7.8h3.95v-7.8zM1038.1 1508.6v7.8h3.95v-7.8zM1042.0 1508.6v7.8h3.95v-7.8zM1045.9 1508.6v7.8h3.95v-7.8zM1049.8 1508.6v7.8h3.95v-7.8zM1053.7 1508.6v7.8h3.95v-7.8zM1057.6 1508.6v7.8h3.95v-7.8zM1061.5 1504.7v7.8h3.95v-7.8zM1065.5 1500.8v7.8h3.95v-7.8zM1069.4 1500.8v7.8h3.95v-7.8zM1073.3 1493.0v11.7h3.95v-11.7zM1077.2 1481.3v11.7h3.95v-11.7zM1081.1 1446.2v35.1h3.95v-35.1zM1085.0 1383.7v62.4h3.95v-62.4zM1088.9 1368.1v23.4h3.95v-23.4zM1092.8 1391.5v66.4h3.95v-66.4zM1096.7 1457.9v35.1h3.95v-35.1zM1100.6 1493.0v3.9h3.95v-3.9zM1104.5 1496.9v7.8h3.95v-7.8zM1108.4 1504.7v3.9h3.95v-3.9zM1112.3 1504.7v7.8h3.95v-7.8zM1116.2 1496.9v7.8h3.95v-7.8zM1120.1 1493.0v7.8h3.95v-7.8zM1124.0 1477.4v15.6h3.95v-15.6zM1127.9 1465.7v11.7h3.95v-11.7zM1131.8 1465.7v11.7h3.95v-11.7zM1135.7 1473.5v15.6h3.95v-15.6zM1139.6 1489.1v7.8h3.95v-7.8zM1143.5 1485.2v7.8h3.95v-7.8zM1147.4 1477.4v7.8h3.95v-7.8zM1151.3 1477.4v11.7h3.95v-11.7zM1155.2 1489.1v15.6h3.95v-15.6zM1159.1 1500.8v7.8h3.95v-7.8zM1163.0 1504.7v3.9h3.95v-3.9zM1166.9 1504.7v7.8h3.95v-7.8zM1170.8 1508.6v3.9h3.95v-3.9zM1174.7 1508.6v7.8h3.95v-7.8zM1178.6 1512.5v3.9h3.95v-3.9zM1182.5 1512.5v3.9h3.95v-3.9zM1186.4 1512.5v7.8h3.95v-7.8zM1190.3 1512.5v3.9h3.95v-3.9zM1194.3 1512.5v3.9h3.95v-3.9zM1198.2 1512.5v3.9h3.95v-3.9zM1202.1 1512.5v3.9h3.95v-3.9zM1206.0 1512.5v3.9h3.95v-3.9zM1209.9 1504.7v7.8h3.95v-7.8zM1213.8 1500.8v7.8h3.95v-7.8zM1217.7 1500.8v3.9h3.95v-3.9zM1221.6 1496.9v3.9h3.95v-3.9zM1225.5 1493.0v7.8h3.95v-7.8zM1229.4 1496.9v7.8h3.95v-7.8zM1233.3 1500.8v7.8h3.95v-7.8zM1237.2 1493.0v11.7h3.95v-11.7zM1241.1 1485.2v11.7h3.95v-11.7zM1245.0 1477.4v11.7h3.95v-11.7zM1248.9 1465.7v11.7h3.95v-11.7zM1252.8 1430.5v35.1h3.95v-35.1zM1256.7 1372.0v58.5h3.95v-58.5zM1260.6 1344.7v27.3h3.95v-27.3zM1264.5 1360.3v70.3h3.95v-70.3zM1268.4 1430.5v50.7h3.95v-50.7zM1272.3 1481.3v11.7h3.95v-11.7zM1276.2 1489.1v7.8h3.95v-7.8zM1280.1 1493.0v7.8h3.95v-7.8zM1284.0 1496.9v7.8h3.95v-7.8zM1287.9 1493.0v7.8h3.95v-7.8zM1291.8 1489.1v7.8h3.95v-7.8zM1295.7 1481.3v7.8h3.95v-7.8zM1299.6 1481.3v7.8h3.95v-7.8zM1303.5 1485.2v11.7h3.95v-11.7zM1307.4 1496.9v7.8h3.95v-7.8zM1311.3 1500.8v7.8h3.95v-7.8zM1315.2 1500.8v7.8h3.95v-7.8zM1319.1 1504.7v3.9h3.95v-3.9zM1323.0 1500.8v7.8h3.95v-7.8zM1327.0 1500.8v7.8h3.95v-7.8zM1330.9 1493.0v11.7h3.95v-11.7zM1334.8 1481.3v11.7h3.95v-11.7zM1338.7 1465.7v19.5h3.95v-19.5zM1342.6 1438.4v27.3h3.95v-27.3zM1346.5 1411.0v27.3h3.95v-27.3zM1350.4 1411.0v31.2h3.95v-31.2zM1354.3 1442.3v35.1h3.95v-35.1zM1358.2 1477.4v11.7h3.95v-11.7zM1362.1 1489.1v7.8h3.95v-7.8zM1366.0 1493.0v11.7h3.95v-11.7zM1369.9 1496.9v7.8h3.95v-7.8zM1373.8 1500.8v3.9h3.95v-3.9zM1377.7 1504.7v3.9h3.95v-3.9zM1381.6 1496.9v7.8h3.95v-7.8zM1385.5 1493.0v7.8h3.95v-7.8zM1389.4 1493.0v3.9h3.95v-3.9zM1393.3 1481.3v11.7h3.95v-11.7zM1397.2 1473.5v7.8h3.95v-7.8zM1401.1 1461.8v11.7h3.95v-11.7zM1405.0 1438.4v23.4h3.95v-23.4zM1408.9 1399.3v39.0h3.95v-39.0zM1412.8 1383.7v15.6h3.95v-15.6zM1416.7 1391.5v46.8h3.95v-46.8zM1420.6 1438.4v39.0h3.95v-39.0zM1424.5 1477.4v11.7h3.95v-11.7zM1428.4 1485.2v11.7h3.95v-11.7zM1432.3 1496.9v3.9h3.95v-3.9zM1436.2 1496.9v3.9h3.95v-3.9zM1440.1 1493.0v7.8h3.95v-7.8zM1444.0 1496.9v3.9h3.95v-3.9zM1447.9 1493.0v7.8h3.95v-7.8zM1451.8 1496.9v7.8h3.95v-7.8zM1455.8 1500.8v3.9h3.95v-3.9zM1459.7 1500.8v11.7h3.95v-11.7zM1463.6 1504.7v3.9h3.95v-3.9zM1467.5 1500.8v7.8h3.95v-7.8zM1471.4 1500.8v7.8h3.95v-7.8zM1475.3 1489.1v15.6h3.95v-15.6zM1479.2 1481.3v11.7h3.95v-11.7zM1483.1 1465.7v15.6h3.95v-15.6zM1487.0 1434.5v31.2h3.95v-31.2zM1490.9 1414.9v19.5h3.95v-19.5zM1494.8 1418.8v31.2h3.95v-31.2zM1498.7 1450.1v31.2h3.95v-31.2zM1502.6 1481.3v11.7h3.95v-11.7zM1506.5 1493.0v7.8h3.95v-7.8zM1510.4 1493.0v7.8h3.95v-7.8zM1514.3 1489.1v3.9h3.95v-3.9zM1518.2 1481.3v7.8h3.95v-7.8zM1522.1 1457.9v27.3h3.95v-27.3zM1526.0 1426.6v31.2h3.95v-31.2zM1529.9 1360.3v66.4h3.95v-66.4zM1533.8 1290.0v70.3h3.95v-70.3zM1537.7 1282.2v42.9h3.95v-42.9zM1541.6 1325.2v93.7h3.95v-93.7zM1545.5 1418.8v46.8h3.95v-46.8zM1549.4 1465.7v15.6h3.95v-15.6zM1553.3 1481.3v15.6h3.95v-15.6zM1557.2 1493.0v7.8h3.95v-7.8zM1561.1 1496.9v7.8h3.95v-7.8zM1565.0 1496.9v7.8h3.95v-7.8zM1568.9 1496.9v3.9h3.95v-3.9zM1572.8 1493.0v3.9h3.95v-3.9zM1576.7 1477.4v15.6h3.95v-15.6zM1580.6 1461.8v15.6h3.95v-15.6zM1584.6 1438.4v23.4h3.95v-23.4zM1588.5 1395.4v42.9h3.95v-42.9zM1592.4 1372.0v23.4h3.95v-23.4zM1596.3 1379.8v50.7h3.95v-50.7zM1600.2 1430.5v46.8h3.95v-46.8zM1604.1 1477.4v7.8h3.95v-7.8zM1608.0 1485.2v7.8h3.95v-7.8zM1611.9 1485.2v7.8h3.95v-7.8zM1615.8 1481.3v7.8h3.95v-7.8zM1619.7 1477.4v7.8h3.95v-7.8zM1623.6 1477.4v15.6h3.95v-15.6zM1627.5 1489.1v11.7h3.95v-11.7zM1631.4 1500.8v3.9h3.95v-3.9zM1635.3 1500.8v7.8h3.95v-7.8zM1639.2 1500.8v7.8h3.95v-7.8zM1643.1 1500.8v7.8h3.95v-7.8zM1647.0 1500.8v3.9h3.95v-3.9zM1650.9 1496.9v3.9h3.95v-3.9zM1654.8 1489.1v11.7h3.95v-11.7zM1658.7 1473.5v19.5h3.95v-19.5zM1662.6 1457.9v15.6h3.95v-15.6zM1666.5 1414.9v42.9h3.95v-42.9zM1670.4 1352.5v62.4h3.95v-62.4zM1674.3 1333.0v19.5h3.95v-19.5zM1678.2 1348.6v66.4h3.95v-66.4zM1682.1 1414.9v50.7h3.95v-50.7zM1686.0 1465.7v15.6h3.95v-15.6zM1689.9 1481.3v11.7h3.95v-11.7zM1693.8 1489.1v7.8h3.95v-7.8zM1697.7 1493.0v7.8h3.95v-7.8zM1701.6 1493.0v3.9h3.95v-3.9zM1705.5 1489.1v7.8h3.95v-7.8zM1709.4 1485.2v7.8h3.95v-7.8zM1713.3 1473.5v11.7h3.95v-11.7zM1717.3 1465.7v11.7h3.95v-11.7zM1721.2 1454.0v11.7h3.95v-11.7zM1725.1 1434.5v19.5h3.95v-19.5zM1729.0 1430.5v7.8h3.95v-7.8zM1732.9 1434.5v15.6h3.95v-15.6zM1736.8 1450.1v19.5h3.95v-19.5zM1740.7 1469.6v11.7h3.95v-11.7zM1744.6 1481.3v11.7h3.95v-11.7zM1748.5 1493.0v7.8h3.95v-7.8zM1752.4 1500.8v7.8h3.95v-7.8zM1756.3 1504.7v3.9h3.95v-3.9zM1760.2 1504.7v11.7h3.95v-11.7zM1764.1 1508.6v7.8h3.95v-7.8zM1768.0 1508.6v7.8h3.95v-7.8zM1771.9 1508.6v3.9h3.95v-3.9zM1775.8 1508.6v3.9h3.95v-3.9zM1779.7 1504.7v7.8h3.95v-7.8zM1783.6 1504.7v7.8h3.95v-7.8zM1787.5 1508.6v3.9h3.95v-3.9zM1791.4 1512.5v3.9h3.95v-3.9zM1795.3 1512.5v3.9h3.95v-3.9zM1799.2 1508.6v3.9h3.95v-3.9zM1803.1 1500.8v7.8h3.95v-7.8zM1807.0 1496.9v7.8h3.95v-7.8zM1810.9 1489.1v11.7h3.95v-11.7zM1814.8 1477.4v11.7h3.95v-11.7zM1818.7 1461.8v19.5h3.95v-19.5zM1822.6 1442.3v23.4h3.95v-23.4zM1826.5 1418.8v23.4h3.95v-23.4zM1830.4 1411.0v7.8h3.95v-7.8zM1834.3 1418.8v39.0h3.95v-39.0zM1838.2 1457.9v27.3h3.95v-27.3zM1842.1 1485.2v7.8h3.95v-7.8zM1846.1 1481.3v11.7h3.95v-11.7zM1850.0 1469.6v11.7h3.95v-11.7zM1853.9 1461.8v7.8h3.95v-7.8zM1857.8 1465.7v15.6h3.95v-15.6zM1861.7 1481.3v15.6h3.95v-15.6zM1865.6 1496.9v7.8h3.95v-7.8zM1869.5 1504.7v7.8h3.95v-7.8zM1873.4 1508.6v7.8h3.95v-7.8zM1877.3 1512.5v7.8h3.95v-7.8zM1881.2 1512.5v7.8h3.95v-7.8zM1885.1 1512.5v3.9h3.95v-3.9zM1889.0 1512.5v3.9h3.95v-3.9zM1892.9 1508.6v7.8h3.95v-7.8zM1896.8 1508.6v7.8h3.95v-7.8zM1900.7 1504.7v7.8h3.95v-7.8zM1904.6 1504.7v7.8h3.95v-7.8zM1908.5 1508.6v3.9h3.95v-3.9zM1912.4 1512.5v3.9h3.95v-3.9zM1916.3 1512.5v3.9h3.95v-3.9zM1920.2 1512.5v7.8h3.95v-7.8zM1924.1 1512.5v3.9h3.95v-3.9zM1928.0 1508.6v7.8h3.95v-7.8zM1931.9 1493.0v15.6h3.95v-15.6zM1935.8 1481.3v15.6h3.95v-15.6zM1939.7 1481.3v7.8h3.95v-7.8zM1943.6 1485.2v11.7h3.95v-11.7zM1947.5 1496.9v7.8h3.95v-7.8zM1951.4 1500.8v11.7h3.95v-11.7zM1955.3 1493.0v11.7h3.95v-11.7zM1959.2 1485.2v7.8h3.95v-7.8zM1963.1 1481.3v7.8h3.95v-7.8zM1967.0 1485.2v15.6h3.95v-15.6zM1970.9 1496.9v11.7h3.95v-11.7zM1974.9 1508.6v3.9h3.95v-3.9zM1978.8 1508.6v7.8h3.95v-7.8zM1982.7 1508.6v7.8h3.95v-7.8zM1986.6 1504.7v11.7h3.95v-11.7zM1990.5 1489.1v15.6h3.95v-15.6zM1994.4 1481.3v11.7h3.95v-11.7zM1998.3 1477.4v7.8h3.95v-7.8zM2002.2 1477.4v7.8h3.95v-7.8zM2006.1 1485.2v3.9h3.95v-3.9zM2010.0 1485.2v11.7h3.95v-11.7zM2013.9 1496.9v11.7h3.95v-11.7zM2017.8 1504.7v11.7h3.95v-11.7zM2021.7 1512.5v7.8h3.95v-7.8zM2025.6 1512.5v7.8h3.95v-7.8zM2029.5 1512.5v7.8h3.95v-7.8zM2033.4 1512.5v7.8h3.95v-7.8zM2037.3 1512.5v7.8h3.95v-7.8zM2041.2 1512.5v7.8h3.95v-7.8zM2045.1 1512.5v7.8h3.95v-7.8zM2049.0 1512.5v7.8h3.95v-7.8zM2052.9 1516.4v3.9h3.95v-3.9zM2056.8 1516.4v3.9h3.95v-3.9zM2060.7 1516.4v7.8h3.95v-7.8zM2064.6 1516.4v7.8h3.95v-7.8zM2068.5 1516.4v7.8h3.95v-7.8zM2072.4 1520.3v3.9h3.95v-3.9zM2076.3 1520.3v7.8h3.95v-7.8zM2080.2 1520.3v7.8h3.95v-7.8zM2084.1 1516.4v7.8h3.95v-7.8zM2088.0 1516.4v3.9h3.95v-3.9zM2091.9 1512.5v7.8h3.95v-7.8zM2095.8 1508.6v11.7h3.95v-11.7zM2099.7 1508.6v7.8h3.95v-7.8zM2103.7 1504.7v3.9h3.95v-3.9zM2107.6 1500.8v7.8h3.95v-7.8zM2111.5 1504.7v7.8h3.95v-7.8zM2115.4 1508.6v7.8h3.95v-7.8zM2119.3 1512.5v3.9h3.95v-3.9zM2123.2 1508.6v7.8h3.95v-7.8zM2127.1 1504.7v3.9h3.95v-3.9zM2131.0 1500.8v7.8h3.95v-7.8zM2134.9 1504.7v7.8h3.95v-7.8zM2138.8 1512.5v7.8h3.95v-7.8zM2142.7 1516.4v3.9h3.95v-3.9zM2146.6 1520.3v3.9h3.95v-3.9zM2150.5 1520.3v3.9h3.95v-3.9z"/>
<path fill="#0000ff" d="M351.2 1742.8v7.8h3.95v-7.8zM355.1 1742.8v3.9h3.95v-3.9zM359.0 1742.8v3.9h3.95v-3.9zM362.9 1735.0v11.7h3.95v-11.7zM366.8 1731.1v7.8h3.95v-7.8zM370.7 1723.3v11.7h3.95v-11.7zM374.6 1711.6v15.6h3.95v-15.6zM378.5 1688.1v23.4h3.95v-23.4zM382.4 1680.3v7.8h3.95v-7.8zM386.3 1684.2v46.8h3.95v-46.8zM390.2 1731.1v23.4h3.95v-23.4zM394.1 1754.5v7.8h3.95v-7.8zM398.0 1762.3v3.9h3.95v-3.9zM401.9 1762.3v7.8h3.95v-7.8zM405.8 1766.2v7.8h3.95v-7.8zM409.7 1766.2v7.8h3.95v-7.8zM413.7 1770.1v3.9h3.95v-3.9zM417.6 1770.1v3.9h3.95v-3.9zM421.5 1774.0v3.9h3.95v-3.9zM425.4 1774.0v3.9h3.95v-3.9zM429.3 1774.0v3.9h3.95v-3.9zM433.2 1774.0v3.9h3.95v-3.9zM437.1 1777.9v3.9h3.95v-3.9zM441.0 1777.9v3.9h3.95v-3.9zM444.9 1777.9v7.8h3.95v-7.8zM448.8 1777.9v7.8h3.95v-7.8zM452.7 1781.8v3.9h3.95v-3.9zM456.6 1781.8v3.9h3.95v-3.9zM460.5 1777.9v7.8h3.95v-7.8zM464.4 1781.8v7.8h3.95v-7.8zM468.3 1781.8v7.8h3.95v-7.8zM472.2 1781.8v7.8h3.95v-7.8zM476.1 1781.8v7.8h3.95v-7.8zM480.0 1785.7v3.9h3.95v-3.9zM483.9 1785.7v3.9h3.95v-3.9zM487.8 1785.7v7.8h3.95v-7.8zM491.7 1785.7v7.8h3.95v-7.8zM495.6 1789.6v3.9h3.95v-3.9zM499.5 1785.7v7.8h3.95v-7.8zM503.4 1789.6v3.9h3.95v-3.9zM507.3 1789.6v7.8h3.95v-7.8zM511.2 1789.6v7.8h3.95v-7.8zM515.1 1789.6v7.8h3.95v-7.8zM519.0 1789.6v3.9h3.95v-3.9zM522.9 1789.6v7.8h3.95v-7.8zM526.8 1789.6v7.8h3.95v-7.8zM530.7 1793.5v3.9h3.95v-3.9zM534.6 1793.5v3.9h3.95v-3.9zM538.5 1789.6v7.8h3.95v-7.8zM542.5 1789.6v7.8h3.95v-7.8zM546.4 1793.5v3.9h3.95v-3.9zM550.3 1793.5v3.9h3.95v-3.9zM554.2 1793.5v3.9h3.95v-3.9zM558.1 1793.5v7.8h3.95v-7.8zM562.0 1793.5v7.8h3.95v-7.8zM565.9 1793.5v7.8h3.95v-7.8zM569.8 1793.5v7.8h3.95v-7.8zM573.7 1797.4v3.9h3.95v-3.9zM577.6 1793.5v7.8h3.95v-7.8zM581.5 1793.5v7.8h3.95v-7.8zM585.4 1797.4v3.9h3.95v-3.9zM589.3 1797.4v7.8h3.95v-7.8zM593.2 1797.4v3.9h3.95v-3.9zM597.1 1797.4v3.9h3.95v-3.9zM601.0 1797.4v3.9h3.95v-3.9zM604.9 1797.4v7.8h3.95v-7.8zM608.8 1797.4v7.8h3.95v-7.8zM612.7 1797.4v7.8h3.95v-7.8zM616.6 1797.4v7.8h3.95v-7.8zM620.5 1801.3v3.9h3.95v-3.9zM624.4 1801.3v3.9h3.95v-3.9zM628.3 1801.3v3.9h3.95v-3.9zM632.2 1801.3v3.9h3.95v-3.9zM636.1 1801.3v3.9h3.95v-3.9zM640.0 1801.3v3.9h3.95v-3.9zM643.9 1801.3v3.9h3.95v-3.9zM647.8 1797.4v7.8h3.95v-7.8zM651.7 1797.4v3.9h3.95v-3.9zM655.6 1797.4v3.9h3.95v-3.9zM659.5 1797.4v3.9h3.95v-3.9zM663.4 1793.5v7.8h3.95v-7.8zM667.3 1793.5v7.8h3.95v-7.8zM671.2 1793.5v7.8h3.95v-7.8zM675.2 1797.4v3.9h3.95v-3.9zM679.1 1793.5v7.8h3.95v-7.8zM683.0 1797.4v3.9h3.95v-3.9zM686.9 1797.4v3.9h3.95v-3.9zM690.8 1793.5v3.9h3.95v-3.9zM694.7 1785.7v7.8h3.95v-7.8zM698.6 1781.8v3.9h3.95v-3.9zM702.5 1777.9v7.8h3.95v-7.8zM706.4 1781.8v7.8h3.95v-7.8zM710.3 1789.6v7.8h3.95v-7.8zM714.2 1797.4v7.8h3.95v-7.8zM718.1 1797.4v7.8h3.95v-7.8zM722.0 1801.3v7.8h3.95v-7.8zM725.9 1801.3v7.8h3.95v-7.8zM729.8 1801.3v3.9h3.95v-3.9zM733.7 1801.3v7.8h3.95v-7.8zM737.6 1801.3v7.8h3.95v-7.8zM741.5 1801.3v7.8h3.95v-7.8zM745.4 1801.3v7.8h3.95v-7.8zM749.3 1801.3v7.8h3.95v-7.8zM753.2 1805.2v3.9h3.95v-3.9zM757.1 1805.2v3.9h3.95v-3.9zM761.0 1805.2v3.9h3.95v-3.9zM764.9 1805.2v7.8h3.95v-7.8zM768.8 1805.2v7.8h3.95v-7.8zM772.7 1805.2v3.9h3.95v-3.9zM776.6 1805.2v7.8h3.95v-7.8zM780.5 1805.2v7.8h3.95v-7.8zM784.4 1809.1v3.9h3.95v-3.9zM788.3 1805.2v7.8h3.95v-7.8zM792.2 1805.2v7.8h3.95v-7.8zM796.1 1809.1v3.9h3.95v-3.9zM800.0 1809.1v3.9h3.95v-3.9zM804.0 1805.2v7.8h3.95v-7.8zM807.9 1809.1v3.9h3.95v-3.9zM811.8 1809.1v3.9h3.95v-3.9zM815.7 1805.2v7.8h3.95v-7.8zM819.6 1805.2v7.8h3.95v-7.8zM823.5 1805.2v3.9h3.95v-3.9zM827.4 1801.3v7.8h3.95v-7.8zM831.3 1801.3v7.8h3.95v-7.8zM835.2 1797.4v7.8h3.95v-7.8zM839.1 1793.5v7.8h3.95v-7.8zM843.0 1789.6v7.8h3.95v-7.8zM846.9 1774.0v15.6h3.95v-15.6zM850.8 1762.3v11.7h3.95v-11.7zM854.7 1754.5v7.8h3.95v-7.8zM858.6 1758.4v23.4h3.95v-23.4zM862.5 1781.8v19.5h3.95v-19.5zM866.4 1793.5v7.8h3.95v-7.8zM870.3 1793.5v7.8h3.95v-7.8zM874.2 1789.6v3.9h3.95v-3.9zM878.1 1785.7v7.8h3.95v-7.8zM882.0 1789.6v7.8h3.95v-7.8zM885.9 1793.5v11.7h3.95v-11.7zM889.8 1801.3v7.8h3.95v-7.8zM893.7 1801.3v7.8h3.95v-7.8zM897.6 1805.2v3.9h3.95v-3.9zM901.5 1805.2v3.9h3.95v-3.9zM905.4 1805.2v7.8h3.95v-7.8zM909.3 1805.2v7.8h3.95v-7.8zM913.2 1805.2v7.8h3.95v-7.8zM917.1 1805.2v7.8h3.95v-7.8zM921.0 1805.2v7.8h3.95v-7.8zM924.9 1805.2v7.8h3.95v-7.8zM928.8 1805.2v7.8h3.95v-7.8zM932.8 1805.2v7.8h3.95v-7.8zM936.7 1809.1v3.9h3.95v-3.9zM940.6 1809.1v7.8h3.95v-7.8zM944.5 1809.1v3.9h3.95v-3.9zM948.4 1809.1v3.9h3.95v-3.9zM952.3 1809.1v3.9h3.95v-3.9zM956.2 1805.2v7.8h3.95v-7.8zM960.1 1809.1v3.9h3.95v-3.9zM964.0 1809.1v3.9h3.95v-3.9zM967.9 1805.2v7.8h3.95v-7.8zM971.8 1809.1v3.9h3.95v-3.9zM975.7 1809.1v3.9h3.95v-3.9zM979.6 1809.1v3.9h3.95v-3.9zM983.5 1809.1v3.9h3.95v-3.9zM987.4 1809.1v3.9h3.95v-3.9zM991.3 1809.1v3.9h3.95v-3.9zM995.2 1809.1v3.9h3.95v-3.9zM999.1 1805.2v7.8h3.95v-7.8zM1003.0 1805.2v7.8h3.95v-7.8zM1006.9 1805.2v7.8h3.95v-7.8zM1010.8 1805.2v7.8h3.95v-7.8zM1014.7 1805.2v7.8h3.95v-7.8zM1018.6 1809.1v3.9h3.95v-3.9zM1022.5 1805.2v7.8h3.95v-7.8zM1026.4 1805.2v3.9h3.95v-3.9zM1030.3 1801.3v7.8h3.95v-7.8zM1034.2 1805.2v3.9h3.95v-3.9zM1038.1 1801.3v7.8h3.95v-7.8zM1042.0 1805.2v3.9h3.95v-3.9zM1045.9 1801.3v7.8h3.95v-7.8zM1049.8 1805.2v3.9h3.95v-3.9zM1053.7 1801.3v7.8h3.95v-7.8zM1057.6 1797.4v7.8h3.95v-7.8zM1061.5 1793.5v7.8h3.95v-7.8zM1065.5 1793.5v3.9h3.95v-3.9zM1069.4 1793.5v3.9h3.95v-3.9zM1073.3 1793.5v3.9h3.95v-3.9zM1077.2 1777.9v15.6h3.95v-15.6zM1081.1 1754.5v23.4h3.95v-23.4zM1085.0 1723.3v31.2h3.95v-31.2zM1088.9 1711.6v11.7h3.95v-11.7zM1092.8 1719.4v27.3h3.95v-27.3zM1096.7 1746.7v31.2h3.95v-31.2zM1100.6 1777.9v19.5h3.95v-19.5zM1104.5 1793.5v7.8h3.95v-7.8zM1108.4 1793.5v7.8h3.95v-7.8zM1112.3 1797.4v7.8h3.95v-7.8zM1116.2 1797.4v3.9h3.95v-3.9zM1120.1 1797.4v3.9h3.95v-3.9zM1124.0 1785.7v11.7h3.95v-11.7zM1127.9 1777.9v7.8h3.95v-7.8zM1131.8 1770.1v7.8h3.95v-7.8zM1135.7 1774.0v11.7h3.95v-11.7zM1139.6 1781.8v7.8h3.95v-7.8zM1143.5 1781.8v7.8h3.95v-7.8zM1147.4 1777.9v7.8h3.95v-7.8zM1151.3 1781.8v11.7h3.95v-11.7zM1155.2 1789.6v11.7h3.95v-11.7zM1159.1 1797.4v7.8h3.95v-7.8zM1163.0 1801.3v3.9h3.95v-3.9zM1166.9 1797.4v7.8h3.95v-7.8zM1170.8 1801.3v7.8h3.95v-7.8zM1174.7 1801.3v7.8h3.95v-7.8zM1178.6 1801.3v7.8h3.95v-7.8zM1182.5 1801.3v7.8h3.95v-7.8zM1186.4 1801.3v7.8h3.95v-7.8zM1190.3 1801.3v7.8h3.95v-7.8zM1194.3 1801.3v7.8h3.95v-7.8zM1198.2 1801.3v7.8h3.95v-7.8zM1202.1 1801.3v7.8h3.95v-7.8zM1206.0 1801.3v7.8h3.95v-7.8zM1209.9 1797.4v7.8h3.95v-7.8zM1213.8 1793.5v7.8h3.95v-7.8zM1217.7 1793.5v3.9h3.95v-3.9zM1221.6 1789.6v7.8h3.95v-7.8zM1225.5 1793.5v3.9h3.95v-3.9zM1229.4 1793.5v7.8h3.95v-7.8zM1233.3 1793.5v7.8h3.95v-7.8zM1237.2 1789.6v7.8h3.95v-7.8zM1241.1 1785.7v7.8h3.95v-7.8zM1245.0 1781.8v7.8h3.95v-7.8zM1248.9 1762.3v19.5h3.95v-19.5zM1252.8 1750.6v15.6h3.95v-15.6zM1256.7 1727.2v23.4h3.95v-23.4zM1260.6 1707.7v19.5h3.95v-19.5zM1264.5 1707.7v11.7h3.95v-11.7zM1268.4 1719.4v39.0h3.95v-39.0zM1272.3 1758.4v19.5h3.95v-19.5zM1276.2 1777.9v11.7h3.95v-11.7zM1280.1 1785.7v3.9h3.95v-3.9zM1284.0 1789.6v3.9h3.95v-3.9zM1287.9 1789.6v7.8h3.95v-7.8zM1291.8 1785.7v7.8h3.95v-7.8zM1295.7 1777.9v7.8h3.95v-7.8zM1299.6 1777.9v7.8h3.95v-7.8zM1303.5 1781.8v7.8h3.95v-7.8zM1307.4 1789.6v7.8h3.95v-7.8zM1311.3 1793.5v3.9h3.95v-3.9zM1315.2 1793.5v3.9h3.95v-3.9zM1319.1 1789.6v7.8h3.95v-7.8zM1323.0 1789.6v3.9h3.95v-3.9zM1327.0 1789.6v3.9h3.95v-3.9zM1330.9 1781.8v11.7h3.95v-11.7zM1334.8 1770.1v11.7h3.95v-11.7zM1338.7 1758.4v11.7h3.95v-11.7zM1342.6 1750.6v11.7h3.95v-11.7zM1346.5 1735.0v15.6h3.95v-15.6zM1350.4 1731.1v7.8h3.95v-7.8zM1354.3 1735.0v15.6h3.95v-15.6zM1358.2 1750.6v19.5h3.95v-19.5zM1362.1 1770.1v11.7h3.95v-11.7zM1366.0 1777.9v11.7h3.95v-11.7zM1369.9 1785.7v7.8h3.95v-7.8zM1373.8 1785.7v7.8h3.95v-7.8zM1377.7 1785.7v3.9h3.95v-3.9zM1381.6 1785.7v3.9h3.95v-3.9zM1385.5 1785.7v3.9h3.95v-3.9zM1389.4 1781.8v7.8h3.95v-7.8zM1393.3 1774.0v7.8h3.95v-7.8zM1397.2 1766.2v11.7h3.95v-11.7zM1401.1 1758.4v11.7h3.95v-11.7zM1405.0 1742.8v15.6h3.95v-15.6zM1408.9 1731.1v11.7h3.95v-11.7zM1412.8 1727.2v7.8h3.95v-7.8zM1416.7 1731.1v19.5h3.95v-19.5zM1420.6 1750.6v15.6h3.95v-15.6zM1424.5 1766.2v11.7h3.95v-11.7zM1428.4 1770.1v11.7h3.95v-11.7zM1432.3 1777.9v7.8h3.95v-7.8zM1436.2 1781.8v3.9h3.95v-3.9zM1440.1 1781.8v7.8h3.95v-7.8zM1444.0 1781.8v7.8h3.95v-7.8zM1447.9 1785.7v3.9h3.95v-3.9zM1451.8 1781.8v7.8h3.95v-7.8zM1455.8 1785.7v3.9h3.95v-3.9zM1459.7 1785.7v3.9h3.95v-3.9zM1463.6 1781.8v7.8h3.95v-7.8zM1467.5 1781.8v7.8h3.95v-7.8zM1471.4 1781.8v7.8h3.95v-7.8zM1475.3 1774.0v11.7h3.95v-11.7zM1479.2 1770.1v7.8h3.95v-7.8zM1483.1 1762.3v11.7h3.95v-11.7zM1487.0 1746.7v15.6h3.95v-15.6zM1490.9 1738.9v7.8h3.95v-7.8zM1494.8 1738.9v11.7h3.95v-11.7zM1498.7 1750.6v15.6h3.95v-15.6zM1502.6 1766.2v11.7h3.95v-11.7zM1506.5 1774.0v11.7h3.95v-11.7zM1510.4 1781.8v7.8h3.95v-7.8zM1514.3 1777.9v3.9h3.95v-3.9zM1518.2 1774.0v7.8h3.95v-7.8zM1522.1 1766.2v11.7h3.95v-11.7zM1526.0 1738.9v27.3h3.95v-27.3zM1529.9 1707.7v31.2h3.95v-31.2zM1533.8 1664.7v42.9h3.95v-42.9zM1537.7 1653.0v19.5h3.95v-19.5zM1541.6 1672.5v66.4h3.95v-66.4zM1545.5 1738.9v23.4h3.95v-23.4zM1549.4 1758.4v15.6h3.95v-15.6zM1553.3 1770.1v7.8h3.95v-7.8zM1557.2 1774.0v7.8h3.95v-7.8zM1561.1 1777.9v7.8h3.95v-7.8zM1565.0 1781.8v7.8h3.95v-7.8zM1568.9 1777.9v7.8h3.95v-7.8zM1572.8 1777.9v7.8h3.95v-7.8zM1576.7 1774.0v11.7h3.95v-11.7zM1580.6 1762.3v11.7h3.95v-11.7zM1584.6 1746.7v15.6h3.95v-15.6zM1588.5 1727.2v19.5h3.95v-19.5zM1592.4 1715.5v11.7h3.95v-11.7zM1596.3 1715.5v15.6h3.95v-15.6zM1600.2 1731.1v27.3h3.95v-27.3zM1604.1 1758.4v15.6h3.95v-15.6zM1608.0 1774.0v7.8h3.95v-7.8zM1611.9 1777.9v7.8h3.95v-7.8zM1615.8 1777.9v7.8h3.95v-7.8zM1619.7 1774.0v7.8h3.95v-7.8zM1623.6 1777.9v3.9h3.95v-3.9zM1627.5 1777.9v7.8h3.95v-7.8zM1631.4 1781.8v11.7h3.95v-11.7zM1635.3 1789.6v3.9h3.95v-3.9zM1639.2 1789.6v3.9h3.95v-3.9zM1643.1 1789.6v3.9h3.95v-3.9zM1647.0 1785.7v7.8h3.95v-7.8zM1650.9 1781.8v7.8h3.95v-7.8zM1654.8 1774.0v11.7h3.95v-11.7zM1658.7 1758.4v15.6h3.95v-15.6zM1662.6 1742.8v15.6h3.95v-15.6zM1666.5 1727.2v15.6h3.95v-15.6zM1670.4 1711.6v15.6h3.95v-15.6zM1674.3 1711.6v11.7h3.95v-11.7zM1678.2 1719.4v27.3h3.95v-27.3zM1682.1 1742.8v23.4h3.95v-23.4zM1686.0 1766.2v19.5h3.95v-19.5zM1689.9 1785.7v3.9h3.95v-3.9zM1693.8 1785.7v7.8h3.95v-7.8zM1697.7 1789.6v7.8h3.95v-7.8zM1701.6 1789.6v3.9h3.95v-3.9zM1705.5 1785.7v3.9h3.95v-3.9zM1709.4 1781.8v7.8h3.95v-7.8zM1713.3 1770.1v11.7h3.95v-11.7zM1717.3 1758.4v11.7h3.95v-11.7zM1721.2 1754.5v7.8h3.95v-7.8zM1725.1 1758.4v11.7h3.95v-11.7zM1729.0 1770.1v15.6h3.95v-15.6zM1732.9 1785.7v3.9h3.95v-3.9zM1736.8 1785.7v7.8h3.95v-7.8zM1740.7 1789.6v7.8h3.95v-7.8zM1744.6 1793.5v3.9h3.95v-3.9zM1748.5 1793.5v7.8h3.95v-7.8zM1752.4 1797.4v3.9h3.95v-3.9zM1756.3 1797.4v7.8h3.95v-7.8zM1760.2 1801.3v3.9h3.95v-3.9zM1764.1 1801.3v7.8h3.95v-7.8zM1768.0 1801.3v7.8h3.95v-7.8zM1771.9 1801.3v7.8h3.95v-7.8zM1775.8 1801.3v7.8h3.95v-7.8zM1779.7 1805.2v3.9h3.95v-3.9zM1783.6 1801.3v7.8h3.95v-7.8zM1787.5 1805.2v7.8h3.95v-7.8zM1791.4 1805.2v7.8h3.95v-7.8zM1795.3 1805.2v3.9h3.95v-3.9zM1799.2 1801.3v7.8h3.95v-7.8zM1803.1 1801.3v7.8h3.95v-7.8zM1807.0 1797.4v11.7h3.95v-11.7zM1810.9 1793.5v11.7h3.95v-11.7zM1814.8 1785.7v11.7h3.95v-11.7zM1818.7 1781.8v7.8h3.95v-7.8zM1822.6 1770.1v11.7h3.95v-11.7zM1826.5 1758.4v11.7h3.95v-11.7zM1830.4 1750.6v7.8h3.95v-7.8zM1834.3 1750.6v11.7h3.95v-11.7zM1838.2 1762.3v19.5h3.95v-19.5zM1842.1 1781.8v7.8h3.95v-7.8zM1846.1 1789.6v3.9h3.95v-3.9zM1850.0 1785.7v7.8h3.95v-7.8zM1853.9 1781.8v7.8h3.95v-7.8zM1857.8 1785.7v3.9h3.95v-3.9zM1861.7 1785.7v11.7h3.95v-11.7zM1865.6 1797.4v7.8h3.95v-7.8zM1869.5 1801.3v11.7h3.95v-11.7zM1873.4 1809.1v7.8h3.95v-7.8zM1877.3 1809.1v3.9h3.95v-3.9zM1881.2 1809.1v7.8h3.95v-7.8zM1885.1 1813.0v3.9h3.95v-3.9zM1889.0 1809.1v7.8h3.95v-7.8zM1892.9 1809.1v7.8h3.95v-7.8zM1896.8 1809.1v3.9h3.95v-3.9zM1900.7 1809.1v3.9h3.95v-3.9zM1904.6 1805.2v7.8h3.95v-7.8zM1908.5 1809.1v3.9h3.95v-3.9zM1912.4 1809.1v3.9h3.95v-3.9zM1916.3 1809.1v7.8h3.95v-7.8zM1920.2 1813.0v3.9h3.95v-3.9zM1924.1 1809.1v7.8h3.95v-7.8zM1928.0 1809.1v7.8h3.95v-7.8zM1931.9 1809.1v7.8h3.95v-7.8zM1935.8 1805.2v7.8h3.95v-7.8zM1939.7 1797.4v7.8h3.95v-7.8zM1943.6 1801.3v7.8h3.95v-7.8zM1947.5 1805.2v3.9h3.95v-3.9zM1951.4 1805.2v7.8h3.95v-7.8zM1955.3 1805.2v7.8h3.95v-7.8zM1959.2 1801.3v7.8h3.95v-7.8zM1963.1 1797.4v7.8h3.95v-7.8zM1967.0 1797.4v3.9h3.95v-3.9zM1970.9 1797.4v11.7h3.95v-11.7zM1974.9 1809.1v3.9h3.95v-3.9zM1978.8 1809.1v7.8h3.95v-7.8zM1982.7 1809.1v7.8h3.95v-7.8zM1986.6 1805.2v7.8h3.95v-7.8zM1990.5 1797.4v15.6h3.95v-15.6zM1994.4 1785.7v11.7h3.95v-11.7zM1998.3 1777.9v7.8h3.95v-7.8zM2002.2 1777.9v11.7h3.95v-11.7zM2006.1 1785.7v7.8h3.95v-7.8zM2010.0 1793.5v7.8h3.95v-7.8zM2013.9 1797.4v7.8h3.95v-7.8zM2017.8 1805.2v7.8h3.95v-7.8zM2021.7 1809.1v7.8h3.95v-7.8zM2025.6 1816.9v7.8h3.95v-7.8zM2029.5 1816.9v7.8h3.95v-7.8zM2033.4 1816.9v7.8h3.95v-7.8zM2037.3 1816.9v7.8h3.95v-7.8zM2041.2 1813.0v7.8h3.95v-7.8zM2045.1 1813.0v11.7h3.95v-11.7zM2049.0 1816.9v7.8h3.95v-7.8zM2052.9 1816.9v7.8h3.95v-7.8zM2056.8 1816.9v7.8h3.95v-7.8zM2060.7 1820.8v3.9h3.95v-3.9zM2064.6 1820.8v3.9h3.95v-3.9zM2068.5 1820.8v7.8h3.95v-7.8zM2072.4 1820.8v7.8h3.95v-7.8zM2076.3 1820.8v7.8h3.95v-7.8zM2080.2 1820.8v7.8h3.95v-7.8zM2084.1 1820.8v7.8h3.95v-7.8zM2088.0 1816.9v7.8h3.95v-7.8zM2091.9 1820.8v3.9h3.95v-3.9zM2095.8 1820.8v3.9h3.95v-3.9zM2099.7 1816.9v7.8h3.95v-7.8zM2103.7 1816.9v3.9h3.95v-3.9zM2107.6 1813.0v7.8h3.95v-7.8zM2111.5 1809.1v7.8h3.95v-7.8zM2115.4 1813.0v7.8h3.95v-7.8zM2119.3 1813.0v7.8h3.95v-7.8zM2123.2 1816.9v7.8h3.95v-7.8zM2127.1 1813.0v7.8h3.95v-7.8zM2131.0 1813.0v3.9h3.95v-3.9zM2134.9 1809.1v7.8h3.95v-7.8zM2138.8 1813.0v7.8h3.95v-7.8zM2142.7 1813.0v7.8h3.95v-7.8zM2146.6 1816.9v3.9h3.95v-3.9zM2150.5 1816.9v7.8h3.95v-7.8z"/>
<path fill="#000000" d="M351.2 2058.9v7.8h3.95v-7.8zM355.1 2062.8v3.9h3.95v-3.9zM359.0 2058.9v7.8h3.95v-7.8zM362.9 2058.9v3.9h3.95v-3.9zM366.8 2058.9v3.9h3.95v-3.9zM370.7 2051.1v7.8h3.95v-7.8zM374.6 2039.4v11.7h3.95v-11.7zM378.5 2027.7v15.6h3.95v-15.6zM382.4 2016.0v15.6h3.95v-15.6zM386.3 2004.3v11.7h3.95v-11.7zM390.2 1996.5v7.8h3.95v-7.8zM394.1 1996.5v19.5h3.95v-19.5zM398.0 2016.0v35.1h3.95v-35.1zM401.9 2051.1v19.5h3.95v-19.5zM405.8 2070.6v7.8h3.95v-7.8zM409.7 2078.4v7.8h3.95v-7.8zM413.7 2082.3v7.8h3.95v-7.8zM417.6 2086.3v3.9h3.95v-3.9zM421.5 2090.2v3.9h3.95v-3.9zM425.4 2090.2v3.9h3.95v-3.9zM429.3 2090.2v7.8h3.95v-7.8zM433.2 2094.1v3.9h3.95v-3.9zM437.1 2094.1v7.8h3.95v-7.8zM441.0 2098.0v3.9h3.95v-3.9zM444.9 2098.0v3.9h3.95v-3.9zM448.8 2098.0v7.8h3.95v-7.8zM452.7 2098.0v7.8h3.95v-7.8zM456.6 2101.9v3.9h3.95v-3.9zM460.5 2101.9v3.9h3.95v-3.9zM464.4 2101.9v7.8h3.95v-7.8zM468.3 2101.9v7.8h3.95v-7.8zM472.2 2105.8v3.9h3.95v-3.9zM476.1 2105.8v3.9h3.95v-3.9zM480.0 2105.8v3.9h3.95v-3.9zM483.9 2105.8v3.9h3.95v-3.9zM487.8 2105.8v7.8h3.95v-7.8zM491.7 2109.7v3.9h3.95v-3.9zM495.6 2109.7v3.9h3.95v-3.9zM499.5 2109.7v3.9h3.95v-3.9zM503.4 2109.7v7.8h3.95v-7.8zM507.3 2109.7v7.8h3.95v-7.8zM511.2 2109.7v3.9h3.95v-3.9zM515.1 2113.6v3.9h3.95v-3.9zM519.0 2109.7v7.8h3.95v-7.8zM522.9 2113.6v3.9h3.95v-3.9zM526.8 2113.6v3.9h3.95v-3.9zM530.7 2113.6v3.9h3.95v-3.9zM534.6 2113.6v3.9h3.95v-3.9zM538.5 2113.6v3.9h3.95v-3.9zM542.5 2113.6v7.8h3.95v-7.8zM546.4 2113.6v3.9h3.95v-3.9zM550.3 2113.6v7.8h3.95v-7.8zM554.2 2113.6v7.8h3.95v-7.8zM558.1 2117.5v3.9h3.95v-3.9zM562.0 2117.5v3.9h3.95v-3.9zM565.9 2117.5v3.9h3.95v-3.9zM569.8 2117.5v3.9h3.95v-3.9zM573.7 2117.5v3.9h3.95v-3.9zM577.6 2117.5v3.9h3.95v-3.9zM581.5 2117.5v7.8h3.95v-7.8zM585.4 2117.5v3.9h3.95v-3.9zM589.3 2117.5v3.9h3.95v-3.9zM593.2 2117.5v7.8h3.95v-7.8zM597.1 2117.5v3.9h3.95v-3.9zM601.0 2117.5v3.9h3.95v-3.9zM604.9 2117.5v7.8h3.95v-7.8zM608.8 2117.5v7.8h3.95v-7.8zM612.7 2117.5v7.8h3.95v-7.8zM616.6 2117.5v7.8h3.95v-7.8zM620.5 2117.5v7.8h3.95v-7.8zM624.4 2121.4v3.9h3.95v-3.9zM628.3 2121.4v3.9h3.95v-3.9zM632.2 2117.5v3.9h3.95v-3.9zM636.1 2121.4v3.9h3.95v-3.9zM640.0 2121.4v3.9h3.95v-3.9zM643.9 2121.4v3.9h3.95v-3.9zM647.8 2121.4v7.8h3.95v-7.8zM651.7 2121.4v7.8h3.95v-7.8zM655.6 2121.4v7.8h3.95v-7.8zM659.5 2121.4v7.8h3.95v-7.8zM663.4 2121.4v3.9h3.95v-3.9zM667.3 2117.5v7.8h3.95v-7.8zM671.2 2117.5v3.9h3.95v-3.9zM675.2 2113.6v7.8h3.95v-7.8zM679.1 2117.5v3.9h3.95v-3.9zM683.0 2113.6v7.8h3.95v-7.8zM686.9 2113.6v7.8h3.95v-7.8zM690.8 2113.6v7.8h3.95v-7.8zM694.7 2113.6v7.8h3.95v-7.8zM698.6 2109.7v7.8h3.95v-7.8zM702.5 2105.8v7.8h3.95v-7.8zM706.4 2101.9v3.9h3.95v-3.9zM710.3 2101.9v3.9h3.95v-3.9zM714.2 2101.9v7.8h3.95v-7.8zM718.1 2105.8v7.8h3.95v-7.8zM722.0 2109.7v7.8h3.95v-7.8zM725.9 2113.6v7.8h3.95v-7.8zM729.8 2117.5v7.8h3.95v-7.8zM733.7 2121.4v3.9h3.95v-3.9zM737.6 2125.3v3.9h3.95v-3.9zM741.5 2125.3v3.9h3.95v-3.9zM745.4 2125.3v3.9h3.95v-3.9zM749.3 2125.3v3.9h3.95v-3.9zM753.2 2125.3v3.9h3.95v-3.9zM757.1 2125.3v3.9h3.95v-3.9zM761.0 2125.3v3.9h3.95v-3.9zM764.9 2125.3v3.9h3.95v-3.9zM768.8 2125.3v3.9h3.95v-3.9zM772.7 2121.4v7.8h3.95v-7.8zM776.6 2125.3v3.9h3.95v-3.9zM780.5 2125.3v3.9h3.95v-3.9zM784.4 2125.3v3.9h3.95v-3.9zM788.3 2125.3v3.9h3.95v-3.9zM792.2 2125.3v3.9h3.95v-3.9zM796.1 2125.3v3.9h3.95v-3.9zM800.0 2125.3v3.9h3.95v-3.9zM804.0 2125.3v3.9h3.95v-3.9zM807.9 2125.3v3.9h3.95v-3.9zM811.8 2125.3v7.8h3.95v-7.8zM815.7 2121.4v7.8h3.95v-7.8zM819.6 2125.3v3.9h3.95v-3.9zM823.5 2125.3v3.9h3.95v-3.9zM827.4 2121.4v7.8h3.95v-7.8zM831.3 2121.4v7.8h3.95v-7.8zM835.2 2121.4v3.9h3.95v-3.9zM839.1 2117.5v7.8h3.95v-7.8zM843.0 2113.6v7.8h3.95v-7.8zM846.9 2109.7v7.8h3.95v-7.8zM850.8 2101.9v7.8h3.95v-7.8zM854.7 2090.2v11.7h3.95v-11.7zM858.6 2082.3v7.8h3.95v-7.8zM862.5 2082.3v3.9h3.95v-3.9zM866.4 2082.3v11.7h3.95v-11.7zM870.3 2094.1v11.7h3.95v-11.7zM874.2 2105.8v7.8h3.95v-7.8zM878.1 2105.8v7.8h3.95v-7.8zM882.0 2109.7v3.9h3.95v-3.9zM885.9 2109.7v7.8h3.95v-7.8zM889.8 2113.6v3.9h3.95v-3.9zM893.7 2113.6v7.8h3.95v-7.8zM897.6 2117.5v3.9h3.95v-3.9zM901.5 2117.5v7.8h3.95v-7.8zM905.4 2121.4v3.9h3.95v-3.9zM909.3 2121.4v7.8h3.95v-7.8zM913.2 2125.3v3.9h3.95v-3.9zM917.1 2125.3v3.9h3.95v-3.9zM921.0 2125.3v3.9h3.95v-3.9zM924.9 2125.3v3.9h3.95v-3.9zM928.8 2125.3v3.9h3.95v-3.9zM932.8 2125.3v3.9h3.95v-3.9zM936.7 2125.3v3.9h3.95v-3.9zM940.6 2125.3v3.9h3.95v-3.9zM944.5 2125.3v3.9h3.95v-3.9zM948.4 2125.3v7.8h3.95v-7.8zM952.3 2125.3v7.8h3.95v-7.8zM956.2 2125.3v7.8h3.95v-7.8zM960.1 2129.2v3.9h3.95v-3.9zM964.0 2129.2v3.9h3.95v-3.9zM967.9 2129.2v3.9h3.95v-3.9zM971.8 2129.2v3.9h3.95v-3.9zM975.7 2129.2v3.9h3.95v-3.9zM979.6 2129.2v3.9h3.95v-3.9zM983.5 2129.2v3.9h3.95v-3.9zM987.4 2129.2v3.9h3.95v-3.9zM991.3 2129.2v3.9h3.95v-3.9zM995.2 2129.2v3.9h3.95v-3.9zM999.1 2125.3v7.8h3.95v-7.8zM1003.0 2129.2v3.9h3.95v-3.9zM1006.9 2125.3v7.8h3.95v-7.8zM1010.8 2129.2v3.9h3.95v-3.9zM1014.7 2125.3v7.8h3.95v-7.8zM1018.6 2125.3v7.8h3.95v-7.8zM1022.5 2125.3v7.8h3.95v-7.8zM1026.4 2125.3v7.8h3.95v-7.8zM1030.3 2125.3v7.8h3.95v-7.8zM1034.2 2125.3v3.9h3.95v-3.9zM1038.1 2125.3v3.9h3.95v-3.9zM1042.0 2125.3v3.9h3.95v-3.9zM1045.9 2125.3v3.9h3.95v-3.9zM1049.8 2121.4v7.8h3.95v-7.8zM1053.7 2121.4v3.9h3.95v-3.9zM1057.6 2121.4v3.9h3.95v-3.9zM1061.5 2117.5v7.8h3.95v-7.8zM1065.5 2117.5v7.8h3.95v-7.8zM1069.4 2109.7v11.7h3.95v-11.7zM1073.3 2105.8v7.8h3.95v-7.8zM1077.2 2101.9v3.9h3.95v-3.9zM1081.1 2090.2v11.7h3.95v-11.7zM1085.0 2082.3v11.7h3.95v-11.7zM1088.9 2066.7v19.5h3.95v-19.5zM1092.8 2043.3v23.4h3.95v-23.4zM1096.7 2023.8v19.5h3.95v-19.5zM1100.6 2023.8v15.6h3.95v-15.6zM1104.5 2039.4v35.1h3.95v-35.1zM1108.4 2074.5v23.4h3.95v-23.4zM1112.3 2094.1v15.6h3.95v-15.6zM1116.2 2101.9v7.8h3.95v-7.8zM1120.1 2109.7v3.9h3.95v-3.9zM1124.0 2105.8v3.9h3.95v-3.9zM1127.9 2101.9v7.8h3.95v-7.8zM1131.8 2098.0v7.8h3.95v-7.8zM1135.7 2090.2v7.8h3.95v-7.8zM1139.6 2086.3v7.8h3.95v-7.8zM1143.5 2086.3v3.9h3.95v-3.9zM1147.4 2082.3v7.8h3.95v-7.8zM1151.3 2086.3v7.8h3.95v-7.8zM1155.2 2090.2v3.9h3.95v-3.9zM1159.1 2090.2v11.7h3.95v-11.7zM1163.0 2098.0v7.8h3.95v-7.8zM1166.9 2101.9v7.8h3.95v-7.8zM1170.8 2105.8v7.8h3.95v-7.8zM1174.7 2109.7v3.9h3.95v-3.9zM1178.6 2113.6v7.8h3.95v-7.8zM1182.5 2117.5v7.8h3.95v-7.8zM1186.4 2121.4v3.9h3.95v-3.9zM1190.3 2121.4v3.9h3.95v-3.9zM1194.3 2121.4v3.9h3.95v-3.9zM1198.2 2121.4v3.9h3.95v-3.9zM1202.1 2121.4v3.9h3.95v-3.9zM1206.0 2121.4v3.9h3.95v-3.9zM1209.9 2117.5v7.8h3.95v-7.8zM1213.8 2117.5v7.8h3.95v-7.8zM1217.7 2117.5v3.9h3.95v-3.9zM1221.6 2113.6v3.9h3.95v-3.9zM1225.5 2113.6v3.9h3.95v-3.9zM1229.4 2113.6v3.9h3.95v-3.9zM1233.3 2109.7v3.9h3.95v-3.9zM1237.2 2109.7v3.9h3.95v-3.9zM1241.1 2105.8v7.8h3.95v-7.8zM1245.0 2098.0v11.7h3.95v-11.7zM1248.9 2090.2v11.7h3.95v-11.7zM1252.8 2082.3v7.8h3.95v-7.8zM1256.7 2066.7v15.6h3.95v-15.6zM1260.6 2051.1v15.6h3.95v-15.6zM1264.5 2019.9v31.2h3.95v-31.2zM1268.4 2000.4v19.5h3.95v-19.5zM1272.3 2000.4v23.4h3.95v-23.4zM1276.2 2023.8v31.2h3.95v-31.2zM1280.1 2055.0v23.4h3.95v-23.4zM1284.0 2078.4v7.8h3.95v-7.8zM1287.9 2086.3v7.8h3.95v-7.8zM1291.8 2094.1v3.9h3.95v-3.9zM1295.7 2098.0v3.9h3.95v-3.9zM1299.6 2098.0v3.9h3.95v-3.9zM1303.5 2098.0v3.9h3.95v-3.9zM1307.4 2098.0v7.8h3.95v-7.8zM1311.3 2101.9v3.9h3.95v-3.9zM1315.2 2101.9v3.9h3.95v-3.9zM1319.1 2105.8v3.9h3.95v-3.9zM1323.0 2105.8v3.9h3.95v-3.9zM1327.0 2101.9v7.8h3.95v-7.8zM1330.9 2101.9v3.9h3.95v-3.9zM1334.8 2098.0v7.8h3.95v-7.8zM1338.7 2094.1v7.8h3.95v-7.8zM1342.6 2086.3v7.8h3.95v-7.8zM1346.5 2078.4v7.8h3.95v-7.8zM1350.4 2070.6v7.8h3.95v-7.8zM1354.3 2062.8v7.8h3.95v-7.8zM1358.2 2062.8v7.8h3.95v-7.8zM1362.1 2066.7v11.7h3.95v-11.7zM1366.0 2074.5v11.7h3.95v-11.7zM1369.9 2086.3v7.8h3.95v-7.8zM1373.8 2094.1v3.9h3.95v-3.9zM1377.7 2094.1v7.8h3.95v-7.8zM1381.6 2098.0v3.9h3.95v-3.9zM1385.5 2094.1v7.8h3.95v-7.8zM1389.4 2094.1v7.8h3.95v-7.8zM1393.3 2094.1v3.9h3.95v-3.9zM1397.2 2086.3v7.8h3.95v-7.8zM1401.1 2078.4v11.7h3.95v-11.7zM1405.0 2070.6v11.7h3.95v-11.7zM1408.9 2058.9v11.7h3.95v-11.7zM1412.8 2047.2v11.7h3.95v-11.7zM1416.7 2043.3v3.9h3.95v-3.9zM1420.6 2039.4v7.8h3.95v-7.8zM1424.5 2047.2v11.7h3.95v-11.7zM1428.4 2058.9v11.7h3.95v-11.7zM1432.3 2070.6v11.7h3.95v-11.7zM1436.2 2078.4v11.7h3.95v-11.7zM1440.1 2086.3v7.8h3.95v-7.8zM1444.0 2090.2v7.8h3.95v-7.8zM1447.9 2094.1v3.9h3.95v-3.9zM1451.8 2098.0v3.9h3.95v-3.9zM1455.8 2098.0v3.9h3.95v-3.9zM1459.7 2098.0v3.9h3.95v-3.9zM1463.6 2098.0v7.8h3.95v-7.8zM1467.5 2098.0v7.8h3.95v-7.8zM1471.4 2098.0v3.9h3.95v-3.9zM1475.3 2094.1v7.8h3.95v-7.8zM1479.2 2094.1v7.8h3.95v-7.8zM1483.1 2086.3v11.7h3.95v-11.7zM1487.0 2082.3v7.8h3.95v-7.8zM1490.9 2074.5v11.7h3.95v-11.7zM1494.8 2066.7v7.8h3.95v-7.8zM1498.7 2058.9v7.8h3.95v-7.8zM1502.6 2058.9v7.8h3.95v-7.8zM1506.5 2062.8v11.7h3.95v-11.7zM1510.4 2074.5v7.8h3.95v-7.8zM1514.3 2082.3v7.8h3.95v-7.8zM1518.2 2082.3v7.8h3.95v-7.8zM1522.1 2082.3v7.8h3.95v-7.8zM1526.0 2066.7v15.6h3.95v-15.6zM1529.9 2058.9v11.7h3.95v-11.7zM1533.8 2039.4v19.5h3.95v-19.5zM1537.7 2012.1v27.3h3.95v-27.3zM1541.6 1984.8v27.3h3.95v-27.3zM1545.5 1977.0v7.8h3.95v-7.8zM1549.4 1984.8v31.2h3.95v-31.2zM1553.3 2016.0v27.3h3.95v-27.3zM1557.2 2043.3v15.6h3.95v-15.6zM1561.1 2058.9v15.6h3.95v-15.6zM1565.0 2074.5v3.9h3.95v-3.9zM1568.9 2074.5v7.8h3.95v-7.8zM1572.8 2082.3v3.9h3.95v-3.9zM1576.7 2078.4v7.8h3.95v-7.8zM1580.6 2074.5v7.8h3.95v-7.8zM1584.6 2066.7v11.7h3.95v-11.7zM1588.5 2062.8v7.8h3.95v-7.8zM1592.4 2047.2v15.6h3.95v-15.6zM1596.3 2035.5v11.7h3.95v-11.7zM1600.2 2027.7v7.8h3.95v-7.8zM1604.1 2027.7v7.8h3.95v-7.8zM1608.0 2035.5v15.6h3.95v-15.6zM1611.9 2051.1v15.6h3.95v-15.6zM1615.8 2066.7v7.8h3.95v-7.8zM1619.7 2074.5v11.7h3.95v-11.7zM1623.6 2082.3v3.9h3.95v-3.9zM1627.5 2082.3v3.9h3.95v-3.9zM1631.4 2082.3v7.8h3.95v-7.8zM1635.3 2086.3v7.8h3.95v-7.8zM1639.2 2090.2v7.8h3.95v-7.8zM1643.1 2094.1v7.8h3.95v-7.8zM1647.0 2098.0v3.9h3.95v-3.9zM1650.9 2094.1v7.8h3.95v-7.8zM1654.8 2090.2v7.8h3.95v-7.8zM1658.7 2086.3v7.8h3.95v-7.8zM1662.6 2082.3v7.8h3.95v-7.8zM1666.5 2070.6v11.7h3.95v-11.7zM1670.4 2062.8v11.7h3.95v-11.7zM1674.3 2051.1v11.7h3.95v-11.7zM1678.2 2031.6v19.5h3.95v-19.5zM1682.1 2023.8v7.8h3.95v-7.8zM1686.0 2019.9v7.8h3.95v-7.8zM1689.9 2023.8v15.6h3.95v-15.6zM1693.8 2039.4v19.5h3.95v-19.5zM1697.7 2058.9v15.6h3.95v-15.6zM1701.6 2070.6v11.7h3.95v-11.7zM1705.5 2082.3v11.7h3.95v-11.7zM1709.4 2094.1v3.9h3.95v-3.9zM1713.3 2094.1v3.9h3.95v-3.9zM1717.3 2094.1v7.8h3.95v-7.8zM1721.2 2094.1v7.8h3.95v-7.8zM1725.1 2098.0v3.9h3.95v-3.9zM1729.0 2098.0v3.9h3.95v-3.9zM1732.9 2098.0v7.8h3.95v-7.8zM1736.8 2098.0v7.8h3.95v-7.8zM1740.7 2101.9v3.9h3.95v-3.9zM1744.6 2101.9v7.8h3.95v-7.8zM1748.5 2101.9v3.9h3.95v-3.9zM1752.4 2105.8v3.9h3.95v-3.9zM1756.3 2105.8v7.8h3.95v-7.8zM1760.2 2105.8v7.8h3.95v-7.8zM1764.1 2109.7v3.9h3.95v-3.9zM1768.0 2109.7v7.8h3.95v-7.8zM1771.9 2113.6v3.9h3.95v-3.9zM1775.8 2113.6v3.9h3.95v-3.9zM1779.7 2113.6v3.9h3.95v-3.9zM1783.6 2113.6v3.9h3.95v-3.9zM1787.5 2109.7v7.8h3.95v-7.8zM1791.4 2109.7v7.8h3.95v-7.8zM1795.3 2109.7v7.8h3.95v-7.8zM1799.2 2109.7v7.8h3.95v-7.8zM1803.1 2109.7v3.9h3.95v-3.9zM1807.0 2105.8v7.8h3.95v-7.8zM1810.9 2101.9v7.8h3.95v-7.8zM1814.8 2098.0v7.8h3.95v-7.8zM1818.7 2094.1v7.8h3.95v-7.8zM1822.6 2090.2v7.8h3.95v-7.8zM1826.5 2086.3v7.8h3.95v-7.8zM1830.4 2074.5v11.7h3.95v-11.7zM1834.3 2055.0v19.5h3.95v-19.5zM1838.2 2039.4v15.6h3.95v-15.6zM1842.1 2031.6v7.8h3.95v-7.8zM1846.1 2035.5v15.6h3.95v-15.6zM1850.0 2051.1v23.4h3.95v-23.4zM1853.9 2074.5v7.8h3.95v-7.8zM1857.8 2078.4v7.8h3.95v-7.8zM1861.7 2082.3v3.9h3.95v-3.9zM1865.6 2086.3v7.8h3.95v-7.8zM1869.5 2090.2v7.8h3.95v-7.8zM1873.4 2094.1v7.8h3.95v-7.8zM1877.3 2098.0v11.7h3.95v-11.7zM1881.2 2105.8v7.8h3.95v-7.8zM1885.1 2109.7v7.8h3.95v-7.8zM1889.0 2113.6v7.8h3.95v-7.8zM1892.9 2113.6v7.8h3.95v-7.8zM1896.8 2113.6v7.8h3.95v-7.8zM1900.7 2117.5v3.9h3.95v-3.9zM1904.6 2117.5v3.9h3.95v-3.9zM1908.5 2113.6v3.9h3.95v-3.9zM1912.4 2113.6v3.9h3.95v-3.9zM1916.3 2113.6v3.9h3.95v-3.9zM1920.2 2113.6v3.9h3.95v-3.9zM1924.1 2113.6v7.8h3.95v-7.8zM1928.0 2113.6v7.8h3.95v-7.8zM1931.9 2113.6v7.8h3.95v-7.8zM1935.8 2113.6v7.8h3.95v-7.8zM1939.7 2109.7v7.8h3.95v-7.8zM1943.6 2105.8v7.8h3.95v-7.8zM1947.5 2101.9v7.8h3.95v-7.8zM1951.4 2098.0v3.9h3.95v-3.9zM1955.3 2098.0v3.9h3.95v-3.9zM1959.2 2098.0v7.8h3.95v-7.8zM1963.1 2101.9v3.9h3.95v-3.9zM1967.0 2101.9v3.9h3.95v-3.9zM1970.9 2101.9v3.9h3.95v-3.9zM1974.9 2101.9v7.8h3.95v-7.8zM1978.8 2101.9v7.8h3.95v-7.8zM1982.7 2105.8v3.9h3.95v-3.9zM1986.6 2109.7v3.9h3.95v-3.9zM1990.5 2109.7v7.8h3.95v-7.8zM1994.4 2109.7v3.9h3.95v-3.9zM1998.3 2105.8v7.8h3.95v-7.8zM2002.2 2105.8v3.9h3.95v-3.9zM2006.1 2101.9v7.8h3.95v-7.8zM2010.0 2101.9v3.9h3.95v-3.9zM2013.9 2101.9v3.9h3.95v-3.9zM2017.8 2101.9v3.9h3.95v-3.9zM2021.7 2101.9v7.8h3.95v-7.8zM2025.6 2105.8v7.8h3.95v-7.8zM2029.5 2109.7v11.7h3.95v-11.7zM2033.4 2117.5v3.9h3.95v-3.9zM2037.3 2117.5v7.8h3.95v-7.8zM2041.2 2117.5v3.9h3.95v-3.9zM2045.1 2117.5v7.8h3.95v-7.8zM2049.0 2121.4v3.9h3.95v-3.9zM2052.9 2121.4v3.9h3.95v-3.9zM2056.8 2121.4v3.9h3.95v-3.9zM2060.7 2121.4v3.9h3.95v-3.9zM2064.6 2121.4v7.8h3.95v-7.8zM2068.5 2121.4v7.8h3.95v-7.8zM2072.4 2125.3v3.9h3.95v-3.9zM2076.3 2125.3v3.9h3.95v-3.9zM2080.2 2125.3v3.9h3.95v-3.9zM2084.1 2125.3v7.8h3.95v-7.8zM2088.0 2125.3v7.8h3.95v-7.8zM2091.9 2125.3v7.8h3.95v-7.8zM2095.8 2125.3v7.8h3.95v-7.8zM2099.7 2125.3v3.9h3.95v-3.9zM2103.7 2121.4v7.8h3.95v-7.8zM2107.6 2125.3v3.9h3.95v-3.9zM2111.5 2121.4v3.9h3.95v-3.9zM2115.4 2113.6v11.7h3.95v-11.7zM2119.3 2113.6v7.8h3.95v-7.8zM2123.2 2113.6v7.8h3.95v-7.8zM2127.1 2117.5v3.9h3.95v-3.9zM2131.0 2117.5v3.9h3.95v-3.9zM2134.9 2113.6v7.8h3.95v-7.8zM2138.8 2117.5v3.9h3.95v-3.9zM2142.7 2113.6v7.8h3.95v-7.8zM2146.6 2117.5v3.9h3.95v-3.9zM2150.5 2117.5v3.9h3.95v-3.9z"/>
<g font-family="'Liberation Serif', 'Times New Roman', serif" fill="#000"><text x="350.0" y="2333" font-size="138" text-anchor="middle">5</text><text x="609.5" y="2333" font-size="138" text-anchor="middle">10</text><text x="865.5" y="2333" font-size="138" text-anchor="middle">15</text><text x="1120.0" y="2333" font-size="138" text-anchor="middle">20</text><text x="1379.0" y="2333" font-size="138" text-anchor="middle">25</text><text x="1638.0" y="2333" font-size="138" text-anchor="middle">30</text><text x="1891.0" y="2333" font-size="138" text-anchor="middle">35</text><text x="2150.5" y="2333" font-size="138" text-anchor="middle">40</text><text x="1253" y="2549.5" font-size="179" text-anchor="middle">2Theta (degree)</text><text transform="translate(201.5,1118.6) rotate(-90)" font-size="177" text-anchor="middle">Intensity (a.u)</text><text transform="translate(1993.85,2043.75) scale(1.0891,0.9507)" font-size="140">a</text><text transform="translate(1995.20,1739.18) scale(1.0431,1.0214)" font-size="140">b</text><text transform="translate(1998.20,1422.44) scale(0.9792,0.9552)" font-size="140">c</text><text transform="translate(1989.79,1129.58) scale(1.0825,1.0163)" font-size="140">d</text><text transform="translate(1997.97,781.05) scale(1.0269,0.9537)" font-size="140">e</text><text transform="translate(2002.90,470.32) scale(1.0000,1.0245)" font-size="140">f</text></g>
</svg></body></html>
